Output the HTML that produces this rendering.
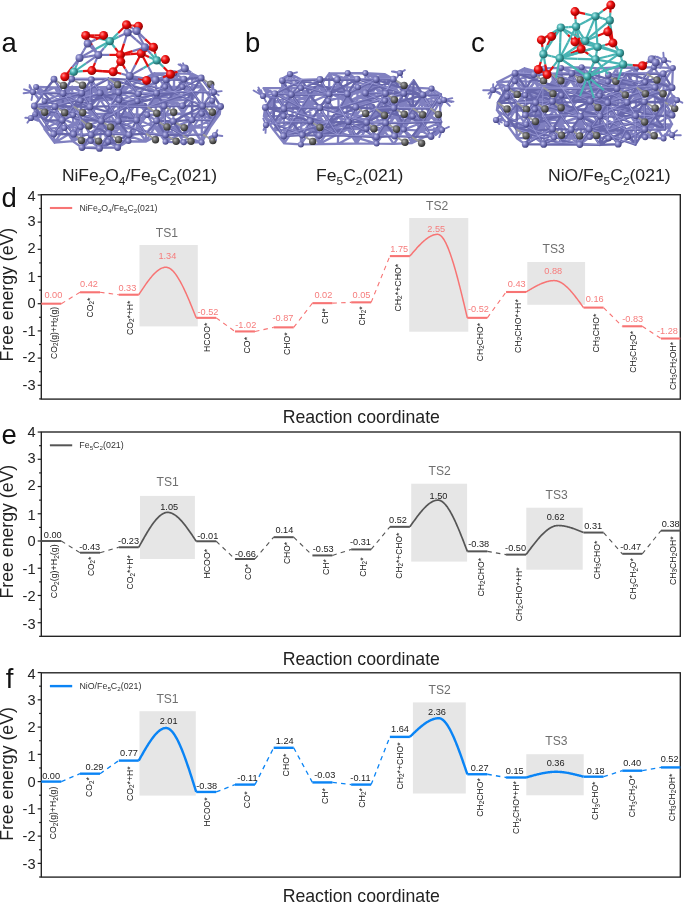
<!DOCTYPE html><html><head><meta charset="utf-8"><style>html,body{margin:0;padding:0;background:#fff;overflow:hidden;width:685px;height:903px;}svg{display:block;font-family:"Liberation Sans", sans-serif;will-change:transform;}</style></head><body>
<svg width="685" height="903" viewBox="0 0 685 903">
<rect width="685" height="903" fill="#fff"/>
<defs><radialGradient id="pball" cx="35%" cy="35%" r="65%"><stop offset="0" stop-color="#c4c4ee"/><stop offset="0.45" stop-color="#7c7cbe"/><stop offset="1" stop-color="#444484"/></radialGradient><radialGradient id="gball" cx="35%" cy="35%" r="65%"><stop offset="0" stop-color="#b0b0b0"/><stop offset="0.45" stop-color="#6a6a6a"/><stop offset="1" stop-color="#303030"/></radialGradient><radialGradient id="rball" cx="35%" cy="35%" r="65%"><stop offset="0" stop-color="#ff9090"/><stop offset="0.45" stop-color="#f01010"/><stop offset="1" stop-color="#900000"/></radialGradient><radialGradient id="tball" cx="35%" cy="35%" r="65%"><stop offset="0" stop-color="#b0f0f0"/><stop offset="0.5" stop-color="#40a8a8"/><stop offset="1" stop-color="#206868"/></radialGradient></defs>
<path d="M154.6 73.1L174.2 73.3 M154.6 73.1L165.2 86.8 M154.6 73.1L146.8 86.4 M154.6 73.1L203.2 87.3 M154.6 73.1L128.9 86.7 M174.2 73.3L192.3 73.8 M174.2 73.3L182.5 86.9 M174.2 73.3L165.2 86.8 M174.2 73.3L173.8 100.7 M174.2 73.3L146.8 86.4 M192.3 73.8L203.2 87.3 M192.3 73.8L182.5 86.9 M192.3 73.8L192.0 99.7 M36.1 87.0L54.7 87.4 M36.1 87.0L44.6 101.1 M36.1 87.0L62.3 100.9 M54.7 87.4L72.1 87.0 M54.7 87.4L62.3 100.9 M72.1 87.0L92.0 87.3 M72.1 87.0L62.3 100.9 M72.1 87.0L73.2 115.0 M72.1 87.0L100.2 99.9 M92.0 87.3L109.3 87.2 M92.0 87.3L80.6 100.6 M92.0 87.3L100.2 99.9 M92.0 87.3L91.9 114.0 M92.0 87.3L119.2 100.4 M92.0 87.3L128.9 86.7 M92.0 87.3L109.7 113.8 M109.3 87.2L128.9 86.7 M109.3 87.2L100.2 99.9 M109.3 87.2L119.2 100.4 M109.3 87.2L137.5 101.2 M109.3 87.2L62.3 100.9 M128.9 86.7L80.6 100.6 M146.8 86.4L155.2 99.4 M146.8 86.4L173.8 100.7 M146.8 86.4L100.2 99.9 M165.2 86.8L182.5 86.9 M165.2 86.8L155.2 99.4 M165.2 86.8L173.8 100.7 M165.2 86.8L203.2 87.3 M182.5 86.9L173.8 100.7 M182.5 86.9L192.0 99.7 M203.2 87.3L192.0 99.7 M203.2 87.3L212.2 100.7 M203.2 87.3L201.9 113.7 M44.6 101.1L62.3 100.9 M44.6 101.1L53.3 114.1 M44.6 101.1L35.1 114.5 M44.6 101.1L91.9 114.0 M44.6 101.1L64.4 127.9 M62.3 100.9L80.6 100.6 M62.3 100.9L73.2 115.0 M62.3 100.9L53.3 114.1 M62.3 100.9L35.1 114.5 M80.6 100.6L100.2 99.9 M80.6 100.6L91.9 114.0 M80.6 100.6L73.2 115.0 M100.2 99.9L119.2 100.4 M100.2 99.9L91.9 114.0 M119.2 100.4L137.5 101.2 M119.2 100.4L127.1 114.2 M119.2 100.4L109.7 113.8 M119.2 100.4L165.5 115.1 M137.5 101.2L155.2 99.4 M137.5 101.2L147.3 114.9 M137.5 101.2L127.1 114.2 M137.5 101.2L136.8 128.6 M137.5 101.2L109.7 113.8 M137.5 101.2L119.3 128.1 M155.2 99.4L173.8 100.7 M155.2 99.4L165.5 115.1 M155.2 99.4L147.3 114.9 M155.2 99.4L192.0 99.7 M155.2 99.4L136.8 128.6 M173.8 100.7L192.0 99.7 M173.8 100.7L183.0 113.5 M173.8 100.7L165.5 115.1 M192.0 99.7L183.0 113.5 M212.2 100.7L219.8 114.0 M212.2 100.7L201.9 113.7 M35.1 114.5L53.3 114.1 M35.1 114.5L64.4 127.9 M35.1 114.5L73.2 115.0 M35.1 114.5L54.7 142.7 M53.3 114.1L44.3 128.7 M53.3 114.1L64.4 127.9 M53.3 114.1L80.7 127.1 M73.2 115.0L80.7 127.1 M73.2 115.0L72.9 141.2 M91.9 114.0L109.7 113.8 M91.9 114.0L80.7 127.1 M91.9 114.0L119.3 128.1 M109.7 113.8L127.1 114.2 M109.7 113.8L101.1 127.1 M109.7 113.8L119.3 128.1 M109.7 113.8L108.3 141.7 M109.7 113.8L64.4 127.9 M109.7 113.8L147.3 114.9 M127.1 114.2L147.3 114.9 M127.1 114.2L119.3 128.1 M127.1 114.2L154.6 127.3 M147.3 114.9L165.5 115.1 M147.3 114.9L136.8 128.6 M147.3 114.9L154.6 127.3 M147.3 114.9L183.0 113.5 M165.5 115.1L183.0 113.5 M183.0 113.5L201.9 113.7 M183.0 113.5L174.1 127.0 M183.0 113.5L193.5 127.5 M183.0 113.5L201.7 142.4 M201.9 113.7L219.8 114.0 M201.9 113.7L193.5 127.5 M201.9 113.7L210.4 127.1 M201.9 113.7L201.7 142.4 M219.8 114.0L210.4 127.1 M44.3 128.7L64.4 127.9 M44.3 128.7L54.7 142.7 M44.3 128.7L90.9 141.1 M64.4 127.9L80.7 127.1 M64.4 127.9L72.9 141.2 M64.4 127.9L54.7 142.7 M80.7 127.1L101.1 127.1 M80.7 127.1L72.9 141.2 M80.7 127.1L54.7 142.7 M101.1 127.1L119.3 128.1 M101.1 127.1L108.3 141.7 M101.1 127.1L90.9 141.1 M101.1 127.1L146.0 141.5 M101.1 127.1L72.9 141.2 M101.1 127.1L136.8 128.6 M119.3 128.1L136.8 128.6 M119.3 128.1L128.5 141.1 M119.3 128.1L108.3 141.7 M136.8 128.6L146.0 141.5 M136.8 128.6L128.5 141.1 M136.8 128.6L183.8 142.3 M154.6 127.3L174.1 127.0 M154.6 127.3L165.5 141.8 M154.6 127.3L146.0 141.5 M154.6 127.3L201.7 142.4 M154.6 127.3L193.5 127.5 M174.1 127.0L193.5 127.5 M174.1 127.0L183.8 142.3 M174.1 127.0L165.5 141.8 M174.1 127.0L146.0 141.5 M193.5 127.5L210.4 127.1 M193.5 127.5L201.7 142.4 M193.5 127.5L183.8 142.3 M193.5 127.5L165.5 141.8 M210.4 127.1L201.7 142.4 M54.7 142.7L72.9 141.2 M90.9 141.1L108.3 141.7 M90.9 141.1L128.5 141.1 M108.3 141.7L128.5 141.1 M108.3 141.7L146.0 141.5 M128.5 141.1L146.0 141.5 M165.5 141.8L183.8 142.3 M183.8 142.3L201.7 142.4 M154.6 73.1L147.0 78.1 M154.6 73.1L156.6 93.2 M174.2 73.3L183.9 79.2 M174.2 73.3L173.8 92.3 M192.3 73.8L201.2 78.0 M192.3 73.8L192.2 91.9 M36.1 87.0L43.6 92.7 M54.7 87.4L43.6 92.7 M54.7 87.4L63.1 93.5 M72.1 87.0L63.1 93.5 M72.1 87.0L81.8 93.1 M72.1 87.0L55.0 106.5 M92.0 87.3L81.8 93.1 M92.0 87.3L100.2 93.1 M92.0 87.3L91.3 79.6 M109.3 87.2L100.2 93.1 M109.3 87.2L118.6 92.4 M109.3 87.2L90.0 106.9 M109.3 87.2L108.5 78.6 M128.9 86.7L118.6 92.4 M128.9 86.7L138.4 93.8 M128.9 86.7L110.2 106.1 M128.9 86.7L127.0 79.6 M146.8 86.4L138.4 93.8 M146.8 86.4L156.6 93.2 M146.8 86.4L127.0 106.3 M146.8 86.4L147.0 78.1 M165.2 86.8L156.6 93.2 M165.2 86.8L173.8 92.3 M165.2 86.8L166.2 79.9 M182.5 86.9L173.8 92.3 M182.5 86.9L192.2 91.9 M182.5 86.9L164.1 106.1 M182.5 86.9L183.9 79.2 M203.2 87.3L182.5 105.7 M44.6 101.1L43.9 120.7 M44.6 101.1L63.1 93.5 M62.3 100.9L55.0 106.5 M62.3 100.9L62.3 120.2 M62.3 100.9L81.8 93.1 M80.6 100.6L73.7 106.4 M80.6 100.6L81.1 119.9 M80.6 100.6L100.2 93.1 M100.2 99.9L118.6 92.4 M119.2 100.4L127.0 106.3 M119.2 100.4L118.3 121.2 M119.2 100.4L138.4 93.8 M137.5 101.2L127.0 106.3 M137.5 101.2L147.6 107.1 M137.5 101.2L136.6 120.2 M137.5 101.2L156.6 93.2 M155.2 99.4L147.6 107.1 M155.2 99.4L164.1 106.1 M155.2 99.4L156.6 120.7 M155.2 99.4L173.8 92.3 M173.8 100.7L164.1 106.1 M173.8 100.7L182.5 105.7 M173.8 100.7L173.3 121.4 M173.8 100.7L192.2 91.9 M192.0 99.7L192.1 119.9 M212.2 100.7L202.7 106.0 M212.2 100.7L211.9 120.1 M35.1 114.5L34.3 106.0 M53.3 114.1L62.3 120.2 M73.2 115.0L62.3 120.2 M73.2 115.0L81.1 119.9 M73.2 115.0L73.7 106.4 M91.9 114.0L81.1 119.9 M91.9 114.0L101.4 121.0 M91.9 114.0L73.6 134.2 M91.9 114.0L90.0 106.9 M109.7 113.8L91.2 134.9 M109.7 113.8L110.2 106.1 M127.1 114.2L118.3 121.2 M127.1 114.2L136.6 120.2 M127.1 114.2L108.7 133.5 M147.3 114.9L136.6 120.2 M147.3 114.9L156.6 120.7 M165.5 115.1L156.6 120.7 M165.5 115.1L173.3 121.4 M165.5 115.1L145.9 133.6 M183.0 113.5L192.1 119.9 M183.0 113.5L182.5 105.7 M201.9 113.7L192.1 119.9 M201.9 113.7L211.9 120.1 M219.8 114.0L211.9 120.1 M219.8 114.0L202.9 134.4 M219.8 114.0L220.6 106.5 M44.3 128.7L62.3 120.2 M64.4 127.9L53.7 134.1 M64.4 127.9L81.1 119.9 M80.7 127.1L101.4 121.0 M101.1 127.1L91.2 134.9 M101.1 127.1L99.5 148.4 M101.1 127.1L118.3 121.2 M119.3 128.1L108.7 133.5 M119.3 128.1L129.0 134.8 M119.3 128.1L136.6 120.2 M136.8 128.6L129.0 134.8 M136.8 128.6L145.9 133.6 M136.8 128.6L156.6 120.7 M154.6 127.3L165.6 135.1 M154.6 127.3L173.3 121.4 M174.1 127.0L182.8 135.1 M174.1 127.0L192.1 119.9 M193.5 127.5L182.8 135.1 M193.5 127.5L211.9 120.1 M210.4 127.1L202.9 134.4 M54.7 142.7L53.7 134.1 M72.9 141.2L82.0 147.6 M90.9 141.1L82.0 147.6 M90.9 141.1L99.5 148.4 M90.9 141.1L91.2 134.9 M108.3 141.7L99.5 148.4 M108.3 141.7L117.7 147.5 M108.3 141.7L108.7 133.5 M128.5 141.1L117.7 147.5 M146.0 141.5L145.9 133.6 M165.5 141.8L165.6 135.1 M201.7 142.4L202.9 134.4" stroke="#8080c0" stroke-width="2.3" stroke-linecap="round" fill="none"/>
<path d="M54.0 79.2L63.1 93.5 M54.0 79.2L43.6 92.7 M71.7 79.0L91.3 79.6 M71.7 79.0L63.1 93.5 M71.7 79.0L108.5 78.6 M91.3 79.6L108.5 78.6 M91.3 79.6L100.2 93.1 M91.3 79.6L81.8 93.1 M91.3 79.6L90.0 106.9 M108.5 78.6L127.0 79.6 M108.5 78.6L118.6 92.4 M108.5 78.6L156.6 93.2 M108.5 78.6L81.8 93.1 M127.0 79.6L147.0 78.1 M127.0 79.6L138.4 93.8 M127.0 79.6L118.6 92.4 M127.0 79.6L173.8 92.3 M127.0 79.6L166.2 79.9 M127.0 79.6L110.2 106.1 M147.0 78.1L166.2 79.9 M166.2 79.9L183.9 79.2 M166.2 79.9L173.8 92.3 M166.2 79.9L156.6 93.2 M166.2 79.9L201.2 78.0 M183.9 79.2L192.2 91.9 M183.9 79.2L173.8 92.3 M201.2 78.0L211.9 92.6 M201.2 78.0L192.2 91.9 M201.2 78.0L173.8 92.3 M43.6 92.7L63.1 93.5 M43.6 92.7L34.3 106.0 M43.6 92.7L55.0 106.5 M43.6 92.7L81.8 93.1 M63.1 93.5L81.8 93.1 M63.1 93.5L73.7 106.4 M63.1 93.5L62.3 120.2 M63.1 93.5L90.0 106.9 M81.8 93.1L73.7 106.4 M81.8 93.1L90.0 106.9 M81.8 93.1L81.1 119.9 M81.8 93.1L34.3 106.0 M100.2 93.1L90.0 106.9 M100.2 93.1L110.2 106.1 M100.2 93.1L127.0 106.3 M100.2 93.1L55.0 106.5 M118.6 92.4L138.4 93.8 M118.6 92.4L110.2 106.1 M118.6 92.4L127.0 106.3 M118.6 92.4L118.3 121.2 M118.6 92.4L73.7 106.4 M138.4 93.8L156.6 93.2 M138.4 93.8L147.6 107.1 M138.4 93.8L173.8 92.3 M156.6 93.2L173.8 92.3 M156.6 93.2L147.6 107.1 M156.6 93.2L164.1 106.1 M156.6 93.2L110.2 106.1 M156.6 93.2L192.2 91.9 M173.8 92.3L192.2 91.9 M173.8 92.3L164.1 106.1 M173.8 92.3L202.7 106.0 M173.8 92.3L127.0 106.3 M192.2 91.9L211.9 92.6 M192.2 91.9L182.5 105.7 M192.2 91.9L202.7 106.0 M192.2 91.9L192.1 119.9 M192.2 91.9L147.6 107.1 M192.2 91.9L211.9 120.1 M211.9 92.6L202.7 106.0 M211.9 92.6L220.6 106.5 M34.3 106.0L55.0 106.5 M34.3 106.0L43.9 120.7 M34.3 106.0L81.1 119.9 M55.0 106.5L73.7 106.4 M55.0 106.5L62.3 120.2 M55.0 106.5L43.9 120.7 M55.0 106.5L101.4 121.0 M73.7 106.4L90.0 106.9 M73.7 106.4L81.1 119.9 M73.7 106.4L62.3 120.2 M73.7 106.4L53.7 134.1 M90.0 106.9L110.2 106.1 M90.0 106.9L101.4 121.0 M90.0 106.9L136.6 120.2 M90.0 106.9L62.3 120.2 M110.2 106.1L127.0 106.3 M110.2 106.1L118.3 121.2 M110.2 106.1L101.4 121.0 M110.2 106.1L147.6 107.1 M127.0 106.3L147.6 107.1 M127.0 106.3L136.6 120.2 M127.0 106.3L118.3 121.2 M127.0 106.3L101.4 121.0 M127.0 106.3L164.1 106.1 M147.6 107.1L164.1 106.1 M147.6 107.1L136.6 120.2 M164.1 106.1L182.5 105.7 M164.1 106.1L156.6 120.7 M164.1 106.1L165.6 135.1 M182.5 105.7L202.7 106.0 M202.7 106.0L220.6 106.5 M202.7 106.0L211.9 120.1 M202.7 106.0L192.1 119.9 M202.7 106.0L173.3 121.4 M220.6 106.5L211.9 120.1 M43.9 120.7L62.3 120.2 M43.9 120.7L53.7 134.1 M62.3 120.2L53.7 134.1 M62.3 120.2L73.6 134.2 M81.1 119.9L101.4 121.0 M81.1 119.9L73.6 134.2 M81.1 119.9L91.2 134.9 M81.1 119.9L82.0 147.6 M81.1 119.9L108.7 133.5 M81.1 119.9L99.5 148.4 M101.4 121.0L118.3 121.2 M101.4 121.0L91.2 134.9 M101.4 121.0L108.7 133.5 M101.4 121.0L136.6 120.2 M118.3 121.2L136.6 120.2 M118.3 121.2L108.7 133.5 M118.3 121.2L129.0 134.8 M118.3 121.2L145.9 133.6 M136.6 120.2L129.0 134.8 M136.6 120.2L145.9 133.6 M156.6 120.7L173.3 121.4 M156.6 120.7L145.9 133.6 M156.6 120.7L165.6 135.1 M156.6 120.7L182.8 135.1 M173.3 121.4L192.1 119.9 M173.3 121.4L165.6 135.1 M173.3 121.4L182.8 135.1 M192.1 119.9L211.9 120.1 M192.1 119.9L182.8 135.1 M211.9 120.1L202.9 134.4 M53.7 134.1L73.6 134.2 M73.6 134.2L91.2 134.9 M91.2 134.9L108.7 133.5 M91.2 134.9L99.5 148.4 M91.2 134.9L82.0 147.6 M108.7 133.5L129.0 134.8 M108.7 133.5L117.7 147.5 M108.7 133.5L99.5 148.4 M129.0 134.8L145.9 133.6 M129.0 134.8L117.7 147.5 M129.0 134.8L99.5 148.4 M145.9 133.6L165.6 135.1 M165.6 135.1L182.8 135.1 M182.8 135.1L202.9 134.4 M82.0 147.6L99.5 148.4 M82.0 147.6L117.7 147.5" stroke="#6767ab" stroke-width="2.4" stroke-linecap="round" fill="none"/>
<path d="M54.0 79.2L63.1 93.5 M71.7 79.0L91.3 79.6 M71.7 79.0L108.5 78.6 M91.3 79.6L100.2 93.1 M91.3 79.6L90.0 106.9 M108.5 78.6L118.6 92.4 M108.5 78.6L81.8 93.1 M127.0 79.6L138.4 93.8 M127.0 79.6L173.8 92.3 M127.0 79.6L110.2 106.1 M166.2 79.9L183.9 79.2 M166.2 79.9L156.6 93.2 M183.9 79.2L192.2 91.9 M201.2 78.0L211.9 92.6 M201.2 78.0L173.8 92.3 M43.6 92.7L34.3 106.0 M43.6 92.7L81.8 93.1 M63.1 93.5L73.7 106.4 M63.1 93.5L90.0 106.9 M81.8 93.1L90.0 106.9 M81.8 93.1L34.3 106.0 M100.2 93.1L110.2 106.1 M100.2 93.1L55.0 106.5 M118.6 92.4L110.2 106.1 M118.6 92.4L118.3 121.2 M138.4 93.8L156.6 93.2 M138.4 93.8L173.8 92.3 M156.6 93.2L147.6 107.1 M156.6 93.2L110.2 106.1 M173.8 92.3L192.2 91.9 M173.8 92.3L202.7 106.0 M192.2 91.9L211.9 92.6 M192.2 91.9L202.7 106.0 M192.2 91.9L147.6 107.1 M211.9 92.6L202.7 106.0 M34.3 106.0L55.0 106.5 M34.3 106.0L81.1 119.9 M55.0 106.5L62.3 120.2 M55.0 106.5L101.4 121.0 M73.7 106.4L81.1 119.9 M73.7 106.4L53.7 134.1 M90.0 106.9L101.4 121.0 M90.0 106.9L62.3 120.2 M110.2 106.1L118.3 121.2 M110.2 106.1L147.6 107.1 M127.0 106.3L136.6 120.2 M127.0 106.3L101.4 121.0 M147.6 107.1L164.1 106.1 M164.1 106.1L182.5 105.7 M164.1 106.1L165.6 135.1 M202.7 106.0L220.6 106.5 M202.7 106.0L192.1 119.9 M220.6 106.5L211.9 120.1 M43.9 120.7L53.7 134.1 M62.3 120.2L73.6 134.2 M81.1 119.9L73.6 134.2 M81.1 119.9L82.0 147.6 M81.1 119.9L99.5 148.4 M101.4 121.0L91.2 134.9 M101.4 121.0L136.6 120.2 M118.3 121.2L108.7 133.5 M118.3 121.2L145.9 133.6 M136.6 120.2L145.9 133.6 M156.6 120.7L145.9 133.6 M156.6 120.7L182.8 135.1 M173.3 121.4L165.6 135.1 M192.1 119.9L211.9 120.1 M211.9 120.1L202.9 134.4 M73.6 134.2L91.2 134.9 M91.2 134.9L99.5 148.4 M108.7 133.5L129.0 134.8 M108.7 133.5L99.5 148.4 M129.0 134.8L117.7 147.5 M145.9 133.6L165.6 135.1 M182.8 135.1L202.9 134.4 M82.0 147.6L117.7 147.5" stroke="#a8a8e0" stroke-width="0.6" fill="none" transform="translate(-0.4,-0.6)"/>
<line x1="63.5" y1="85.4" x2="54.0" y2="79.2" stroke="#9a9a9a" stroke-width="1.8"/>
<circle cx="63.5" cy="85.4" r="3.7" fill="url(#gball)"/>
<line x1="82.6" y1="85.2" x2="71.7" y2="79.0" stroke="#9a9a9a" stroke-width="1.8"/>
<circle cx="82.6" cy="85.2" r="3.7" fill="url(#gball)"/>
<line x1="117.6" y1="84.8" x2="108.5" y2="78.6" stroke="#9a9a9a" stroke-width="1.8"/>
<circle cx="117.6" cy="84.8" r="3.7" fill="url(#gball)"/>
<line x1="210.7" y1="84.2" x2="201.2" y2="78.0" stroke="#9a9a9a" stroke-width="1.8"/>
<circle cx="210.7" cy="84.2" r="3.7" fill="url(#gball)"/>
<line x1="44.7" y1="112.2" x2="34.3" y2="106.0" stroke="#9a9a9a" stroke-width="1.8"/>
<circle cx="44.7" cy="112.2" r="3.7" fill="url(#gball)"/>
<line x1="64.7" y1="112.7" x2="55.0" y2="106.5" stroke="#9a9a9a" stroke-width="1.8"/>
<circle cx="64.7" cy="112.7" r="3.7" fill="url(#gball)"/>
<line x1="82.7" y1="112.6" x2="73.7" y2="106.4" stroke="#9a9a9a" stroke-width="1.8"/>
<circle cx="82.7" cy="112.6" r="3.7" fill="url(#gball)"/>
<line x1="156.8" y1="113.3" x2="147.6" y2="107.1" stroke="#9a9a9a" stroke-width="1.8"/>
<circle cx="156.8" cy="113.3" r="3.7" fill="url(#gball)"/>
<line x1="173.7" y1="112.3" x2="164.1" y2="106.1" stroke="#9a9a9a" stroke-width="1.8"/>
<circle cx="173.7" cy="112.3" r="3.7" fill="url(#gball)"/>
<line x1="212.4" y1="112.2" x2="202.7" y2="106.0" stroke="#9a9a9a" stroke-width="1.8"/>
<circle cx="212.4" cy="112.2" r="3.7" fill="url(#gball)"/>
<line x1="88.9" y1="126.1" x2="81.1" y2="119.9" stroke="#9a9a9a" stroke-width="1.8"/>
<circle cx="88.9" cy="126.1" r="3.7" fill="url(#gball)"/>
<line x1="110.6" y1="127.2" x2="101.4" y2="121.0" stroke="#9a9a9a" stroke-width="1.8"/>
<circle cx="110.6" cy="127.2" r="3.7" fill="url(#gball)"/>
<line x1="167.0" y1="126.9" x2="156.6" y2="120.7" stroke="#9a9a9a" stroke-width="1.8"/>
<circle cx="167.0" cy="126.9" r="3.7" fill="url(#gball)"/>
<line x1="184.2" y1="127.6" x2="173.3" y2="121.4" stroke="#9a9a9a" stroke-width="1.8"/>
<circle cx="184.2" cy="127.6" r="3.7" fill="url(#gball)"/>
<line x1="81.4" y1="140.4" x2="73.6" y2="134.2" stroke="#9a9a9a" stroke-width="1.8"/>
<circle cx="81.4" cy="140.4" r="3.7" fill="url(#gball)"/>
<line x1="98.6" y1="141.1" x2="91.2" y2="134.9" stroke="#9a9a9a" stroke-width="1.8"/>
<circle cx="98.6" cy="141.1" r="3.7" fill="url(#gball)"/>
<line x1="118.5" y1="139.7" x2="108.7" y2="133.5" stroke="#9a9a9a" stroke-width="1.8"/>
<circle cx="118.5" cy="139.7" r="3.7" fill="url(#gball)"/>
<line x1="155.5" y1="139.8" x2="145.9" y2="133.6" stroke="#9a9a9a" stroke-width="1.8"/>
<circle cx="155.5" cy="139.8" r="3.7" fill="url(#gball)"/>
<line x1="176.1" y1="141.3" x2="165.6" y2="135.1" stroke="#9a9a9a" stroke-width="1.8"/>
<circle cx="176.1" cy="141.3" r="3.7" fill="url(#gball)"/>
<line x1="191.0" y1="141.3" x2="182.8" y2="135.1" stroke="#9a9a9a" stroke-width="1.8"/>
<circle cx="191.0" cy="141.3" r="3.7" fill="url(#gball)"/>
<line x1="212.9" y1="140.6" x2="202.9" y2="134.4" stroke="#9a9a9a" stroke-width="1.8"/>
<circle cx="212.9" cy="140.6" r="3.7" fill="url(#gball)"/>
<circle cx="174.2" cy="73.3" r="3.0" fill="url(#pball)"/>
<circle cx="36.1" cy="87.0" r="3.0" fill="url(#pball)"/>
<circle cx="109.3" cy="87.2" r="3.0" fill="url(#pball)"/>
<circle cx="165.2" cy="86.8" r="3.0" fill="url(#pball)"/>
<circle cx="182.5" cy="86.9" r="3.0" fill="url(#pball)"/>
<circle cx="44.6" cy="101.1" r="3.0" fill="url(#pball)"/>
<circle cx="80.6" cy="100.6" r="3.0" fill="url(#pball)"/>
<circle cx="119.2" cy="100.4" r="3.0" fill="url(#pball)"/>
<circle cx="137.5" cy="101.2" r="3.0" fill="url(#pball)"/>
<circle cx="212.2" cy="100.7" r="3.0" fill="url(#pball)"/>
<circle cx="35.1" cy="114.5" r="3.0" fill="url(#pball)"/>
<circle cx="73.2" cy="115.0" r="3.0" fill="url(#pball)"/>
<circle cx="147.3" cy="114.9" r="3.0" fill="url(#pball)"/>
<circle cx="201.9" cy="113.7" r="3.0" fill="url(#pball)"/>
<circle cx="64.4" cy="127.9" r="3.0" fill="url(#pball)"/>
<circle cx="80.7" cy="127.1" r="3.0" fill="url(#pball)"/>
<circle cx="90.9" cy="141.1" r="3.0" fill="url(#pball)"/>
<circle cx="108.3" cy="141.7" r="3.0" fill="url(#pball)"/>
<circle cx="128.5" cy="141.1" r="3.0" fill="url(#pball)"/>
<circle cx="165.5" cy="141.8" r="3.0" fill="url(#pball)"/>
<circle cx="183.8" cy="142.3" r="3.0" fill="url(#pball)"/>
<circle cx="201.7" cy="142.4" r="3.0" fill="url(#pball)"/>
<circle cx="54.0" cy="79.2" r="3.4" fill="url(#pball)"/>
<circle cx="71.7" cy="79.0" r="3.4" fill="url(#pball)"/>
<circle cx="91.3" cy="79.6" r="3.4" fill="url(#pball)"/>
<circle cx="166.2" cy="79.9" r="3.4" fill="url(#pball)"/>
<circle cx="183.9" cy="79.2" r="3.4" fill="url(#pball)"/>
<circle cx="201.2" cy="78.0" r="3.4" fill="url(#pball)"/>
<circle cx="63.1" cy="93.5" r="3.4" fill="url(#pball)"/>
<circle cx="81.8" cy="93.1" r="3.4" fill="url(#pball)"/>
<circle cx="100.2" cy="93.1" r="3.4" fill="url(#pball)"/>
<circle cx="118.6" cy="92.4" r="3.4" fill="url(#pball)"/>
<circle cx="138.4" cy="93.8" r="3.4" fill="url(#pball)"/>
<circle cx="156.6" cy="93.2" r="3.4" fill="url(#pball)"/>
<circle cx="211.9" cy="92.6" r="3.4" fill="url(#pball)"/>
<circle cx="34.3" cy="106.0" r="3.4" fill="url(#pball)"/>
<circle cx="55.0" cy="106.5" r="3.4" fill="url(#pball)"/>
<circle cx="90.0" cy="106.9" r="3.4" fill="url(#pball)"/>
<circle cx="164.1" cy="106.1" r="3.4" fill="url(#pball)"/>
<circle cx="182.5" cy="105.7" r="3.4" fill="url(#pball)"/>
<circle cx="202.7" cy="106.0" r="3.4" fill="url(#pball)"/>
<circle cx="220.6" cy="106.5" r="3.4" fill="url(#pball)"/>
<circle cx="62.3" cy="120.2" r="3.4" fill="url(#pball)"/>
<circle cx="101.4" cy="121.0" r="3.4" fill="url(#pball)"/>
<circle cx="118.3" cy="121.2" r="3.4" fill="url(#pball)"/>
<circle cx="136.6" cy="120.2" r="3.4" fill="url(#pball)"/>
<circle cx="156.6" cy="120.7" r="3.4" fill="url(#pball)"/>
<circle cx="173.3" cy="121.4" r="3.4" fill="url(#pball)"/>
<circle cx="192.1" cy="119.9" r="3.4" fill="url(#pball)"/>
<circle cx="53.7" cy="134.1" r="3.4" fill="url(#pball)"/>
<circle cx="73.6" cy="134.2" r="3.4" fill="url(#pball)"/>
<circle cx="91.2" cy="134.9" r="3.4" fill="url(#pball)"/>
<circle cx="108.7" cy="133.5" r="3.4" fill="url(#pball)"/>
<circle cx="129.0" cy="134.8" r="3.4" fill="url(#pball)"/>
<circle cx="165.6" cy="135.1" r="3.4" fill="url(#pball)"/>
<circle cx="82.0" cy="147.6" r="3.4" fill="url(#pball)"/>
<circle cx="99.5" cy="148.4" r="3.4" fill="url(#pball)"/>
<circle cx="117.7" cy="147.5" r="3.4" fill="url(#pball)"/>
<path d="M33.0 92.0L23.6 93.2 M33.0 92.0L29.4 87.0 M33.0 92.0L41.2 92.4 M33.0 92.0L31.5 100.0 M33.0 92.0L29.6 85.1 M33.0 92.0L24.1 89.3 M33.0 92.0L38.2 97.4 M33.0 92.0L38.5 99.2 M33.0 92.0L42.5 94.9 M31.0 118.0L38.0 120.8 M31.0 118.0L27.4 122.7 M31.0 118.0L34.0 114.3 M31.0 118.0L39.1 120.6 M31.0 118.0L25.3 117.7 M31.0 118.0L39.8 117.4 M185.0 68.0L190.8 72.0 M185.0 68.0L189.8 72.4 M185.0 68.0L180.2 64.3 M185.0 68.0L183.0 63.3 M185.0 68.0L189.4 74.5 M185.0 68.0L178.8 71.6 M185.0 68.0L178.5 64.4 M185.0 68.0L180.4 71.2 M214.0 92.0L212.7 85.0 M214.0 92.0L221.7 91.1 M214.0 92.0L209.8 96.2 M214.0 92.0L211.1 86.2 M214.0 92.0L218.7 95.3 M214.0 92.0L209.3 96.4 M215.0 135.0L217.4 130.2 M215.0 135.0L222.3 136.0 M215.0 135.0L209.2 137.2 M215.0 135.0L216.1 139.9 M215.0 135.0L209.4 138.8" stroke="#7c7cc0" stroke-width="1.9" stroke-linecap="round" fill="none"/>
<circle cx="33.0" cy="92.0" r="3.1" fill="url(#pball)"/>
<circle cx="31.0" cy="118.0" r="3.1" fill="url(#pball)"/>
<circle cx="185.0" cy="68.0" r="3.1" fill="url(#pball)"/>
<circle cx="214.0" cy="92.0" r="3.1" fill="url(#pball)"/>
<circle cx="215.0" cy="135.0" r="3.1" fill="url(#pball)"/>
<line x1="85.7" y1="35.4" x2="97.8" y2="38.3" stroke="#e01010" stroke-width="2.2"/>
<line x1="97.8" y1="38.3" x2="109.8" y2="41.2" stroke="#48b4b4" stroke-width="2.2"/>
<line x1="85.7" y1="35.4" x2="86.7" y2="39.5" stroke="#e01010" stroke-width="2.2"/>
<line x1="86.7" y1="39.5" x2="87.7" y2="43.6" stroke="#7a7abc" stroke-width="2.2"/>
<line x1="103.6" y1="35.4" x2="106.7" y2="38.3" stroke="#e01010" stroke-width="2.2"/>
<line x1="106.7" y1="38.3" x2="109.8" y2="41.2" stroke="#48b4b4" stroke-width="2.2"/>
<line x1="109.8" y1="41.2" x2="118.7" y2="36.8" stroke="#48b4b4" stroke-width="2.2"/>
<line x1="118.7" y1="36.8" x2="127.6" y2="32.4" stroke="#7a7abc" stroke-width="2.2"/>
<line x1="109.8" y1="41.2" x2="118.2" y2="33.0" stroke="#48b4b4" stroke-width="2.2"/>
<line x1="118.2" y1="33.0" x2="126.5" y2="24.8" stroke="#e01010" stroke-width="2.2"/>
<line x1="126.5" y1="24.8" x2="131.6" y2="27.9" stroke="#e01010" stroke-width="2.2"/>
<line x1="131.6" y1="27.9" x2="136.7" y2="30.9" stroke="#7a7abc" stroke-width="2.2"/>
<line x1="138.4" y1="26.2" x2="137.6" y2="28.5" stroke="#e01010" stroke-width="2.2"/>
<line x1="137.6" y1="28.5" x2="136.7" y2="30.9" stroke="#7a7abc" stroke-width="2.2"/>
<line x1="127.6" y1="32.4" x2="132.1" y2="31.6" stroke="#7a7abc" stroke-width="2.2"/>
<line x1="132.1" y1="31.6" x2="136.7" y2="30.9" stroke="#7a7abc" stroke-width="2.2"/>
<line x1="136.7" y1="30.9" x2="145.1" y2="39.1" stroke="#7a7abc" stroke-width="2.2"/>
<line x1="145.1" y1="39.1" x2="153.5" y2="47.3" stroke="#e01010" stroke-width="2.2"/>
<line x1="136.7" y1="30.9" x2="140.8" y2="39.1" stroke="#7a7abc" stroke-width="2.2"/>
<line x1="140.8" y1="39.1" x2="144.9" y2="47.3" stroke="#7a7abc" stroke-width="2.2"/>
<line x1="144.9" y1="47.3" x2="149.2" y2="47.3" stroke="#7a7abc" stroke-width="2.2"/>
<line x1="149.2" y1="47.3" x2="153.5" y2="47.3" stroke="#e01010" stroke-width="2.2"/>
<line x1="153.5" y1="47.3" x2="155.2" y2="53.8" stroke="#e01010" stroke-width="2.2"/>
<line x1="155.2" y1="53.8" x2="156.8" y2="60.4" stroke="#48b4b4" stroke-width="2.2"/>
<line x1="156.8" y1="60.4" x2="161.1" y2="60.0" stroke="#48b4b4" stroke-width="2.2"/>
<line x1="161.1" y1="60.0" x2="165.4" y2="59.6" stroke="#e01010" stroke-width="2.2"/>
<line x1="156.8" y1="60.4" x2="149.0" y2="56.9" stroke="#48b4b4" stroke-width="2.2"/>
<line x1="149.0" y1="56.9" x2="141.2" y2="53.4" stroke="#e01010" stroke-width="2.2"/>
<line x1="141.2" y1="53.4" x2="130.8" y2="54.1" stroke="#e01010" stroke-width="2.2"/>
<line x1="130.8" y1="54.1" x2="120.4" y2="54.9" stroke="#e01010" stroke-width="2.2"/>
<line x1="79.5" y1="57.9" x2="88.9" y2="56.4" stroke="#7a7abc" stroke-width="2.2"/>
<line x1="88.9" y1="56.4" x2="98.3" y2="54.9" stroke="#7a7abc" stroke-width="2.2"/>
<line x1="109.8" y1="41.2" x2="94.7" y2="49.5" stroke="#48b4b4" stroke-width="2.2"/>
<line x1="94.7" y1="49.5" x2="79.5" y2="57.9" stroke="#7a7abc" stroke-width="2.2"/>
<line x1="98.3" y1="54.9" x2="104.0" y2="48.0" stroke="#7a7abc" stroke-width="2.2"/>
<line x1="104.0" y1="48.0" x2="109.8" y2="41.2" stroke="#48b4b4" stroke-width="2.2"/>
<line x1="98.3" y1="54.9" x2="109.3" y2="54.9" stroke="#7a7abc" stroke-width="2.2"/>
<line x1="109.3" y1="54.9" x2="120.4" y2="54.9" stroke="#e01010" stroke-width="2.2"/>
<line x1="120.4" y1="54.9" x2="120.6" y2="58.2" stroke="#e01010" stroke-width="2.2"/>
<line x1="120.6" y1="58.2" x2="120.8" y2="61.6" stroke="#e01010" stroke-width="2.2"/>
<line x1="79.5" y1="57.9" x2="76.7" y2="64.8" stroke="#7a7abc" stroke-width="2.2"/>
<line x1="76.7" y1="64.8" x2="73.8" y2="71.8" stroke="#48b4b4" stroke-width="2.2"/>
<line x1="73.8" y1="71.8" x2="69.3" y2="74.2" stroke="#48b4b4" stroke-width="2.2"/>
<line x1="69.3" y1="74.2" x2="64.8" y2="76.7" stroke="#e01010" stroke-width="2.2"/>
<line x1="73.8" y1="71.8" x2="82.8" y2="71.2" stroke="#48b4b4" stroke-width="2.2"/>
<line x1="82.8" y1="71.2" x2="91.8" y2="70.6" stroke="#e01010" stroke-width="2.2"/>
<line x1="98.3" y1="54.9" x2="95.0" y2="62.8" stroke="#7a7abc" stroke-width="2.2"/>
<line x1="95.0" y1="62.8" x2="91.8" y2="70.6" stroke="#e01010" stroke-width="2.2"/>
<line x1="91.8" y1="70.6" x2="102.5" y2="71.2" stroke="#e01010" stroke-width="2.2"/>
<line x1="102.5" y1="71.2" x2="113.2" y2="71.8" stroke="#e01010" stroke-width="2.2"/>
<line x1="113.2" y1="71.8" x2="121.4" y2="73.8" stroke="#e01010" stroke-width="2.2"/>
<line x1="121.4" y1="73.8" x2="129.6" y2="75.9" stroke="#7a7abc" stroke-width="2.2"/>
<line x1="129.6" y1="75.9" x2="135.4" y2="64.7" stroke="#7a7abc" stroke-width="2.2"/>
<line x1="135.4" y1="64.7" x2="141.2" y2="53.4" stroke="#e01010" stroke-width="2.2"/>
<line x1="129.6" y1="75.9" x2="138.1" y2="78.2" stroke="#7a7abc" stroke-width="2.2"/>
<line x1="138.1" y1="78.2" x2="146.6" y2="80.4" stroke="#e01010" stroke-width="2.2"/>
<line x1="146.6" y1="80.4" x2="151.1" y2="80.2" stroke="#e01010" stroke-width="2.2"/>
<line x1="151.1" y1="80.2" x2="155.5" y2="80.0" stroke="#7a7abc" stroke-width="2.2"/>
<line x1="156.8" y1="60.4" x2="143.2" y2="68.2" stroke="#48b4b4" stroke-width="2.2"/>
<line x1="143.2" y1="68.2" x2="129.6" y2="75.9" stroke="#7a7abc" stroke-width="2.2"/>
<line x1="156.8" y1="60.4" x2="163.7" y2="67.3" stroke="#48b4b4" stroke-width="2.2"/>
<line x1="163.7" y1="67.3" x2="170.5" y2="74.3" stroke="#e01010" stroke-width="2.2"/>
<line x1="170.5" y1="74.3" x2="177.7" y2="71.4" stroke="#e01010" stroke-width="2.2"/>
<line x1="177.7" y1="71.4" x2="184.8" y2="68.5" stroke="#7a7abc" stroke-width="2.2"/>
<line x1="87.7" y1="43.6" x2="83.6" y2="50.8" stroke="#7a7abc" stroke-width="2.2"/>
<line x1="83.6" y1="50.8" x2="79.5" y2="57.9" stroke="#7a7abc" stroke-width="2.2"/>
<line x1="85.7" y1="35.4" x2="92.0" y2="45.1" stroke="#e01010" stroke-width="2.2"/>
<line x1="92.0" y1="45.1" x2="98.3" y2="54.9" stroke="#7a7abc" stroke-width="2.2"/>
<line x1="127.6" y1="32.4" x2="124.0" y2="43.6" stroke="#7a7abc" stroke-width="2.2"/>
<line x1="124.0" y1="43.6" x2="120.4" y2="54.9" stroke="#e01010" stroke-width="2.2"/>
<line x1="144.9" y1="47.3" x2="143.1" y2="50.3" stroke="#7a7abc" stroke-width="2.2"/>
<line x1="143.1" y1="50.3" x2="141.2" y2="53.4" stroke="#e01010" stroke-width="2.2"/>
<line x1="120.8" y1="61.6" x2="125.2" y2="68.8" stroke="#e01010" stroke-width="2.2"/>
<line x1="125.2" y1="68.8" x2="129.6" y2="75.9" stroke="#7a7abc" stroke-width="2.2"/>
<line x1="126.5" y1="24.8" x2="127.0" y2="28.6" stroke="#e01010" stroke-width="2.2"/>
<line x1="127.0" y1="28.6" x2="127.6" y2="32.4" stroke="#7a7abc" stroke-width="2.2"/>
<line x1="87.7" y1="43.6" x2="93.0" y2="49.2" stroke="#7a7abc" stroke-width="2.2"/>
<line x1="93.0" y1="49.2" x2="98.3" y2="54.9" stroke="#7a7abc" stroke-width="2.2"/>
<line x1="155.5" y1="80.0" x2="163.0" y2="77.2" stroke="#7a7abc" stroke-width="2.2"/>
<line x1="163.0" y1="77.2" x2="170.5" y2="74.3" stroke="#e01010" stroke-width="2.2"/>
<line x1="141.2" y1="53.4" x2="148.3" y2="66.7" stroke="#e01010" stroke-width="2.2"/>
<line x1="148.3" y1="66.7" x2="155.5" y2="80.0" stroke="#7a7abc" stroke-width="2.2"/>
<line x1="79.5" y1="57.9" x2="72.2" y2="67.3" stroke="#7a7abc" stroke-width="2.2"/>
<line x1="72.2" y1="67.3" x2="64.8" y2="76.7" stroke="#e01010" stroke-width="2.2"/>
<line x1="85.7" y1="35.4" x2="94.7" y2="35.4" stroke="#e01010" stroke-width="2.2"/>
<line x1="94.7" y1="35.4" x2="103.6" y2="35.4" stroke="#e01010" stroke-width="2.2"/>
<line x1="103.6" y1="35.4" x2="95.7" y2="39.5" stroke="#e01010" stroke-width="2.2"/>
<line x1="95.7" y1="39.5" x2="87.7" y2="43.6" stroke="#7a7abc" stroke-width="2.2"/>
<line x1="126.5" y1="24.8" x2="132.4" y2="25.5" stroke="#e01010" stroke-width="2.2"/>
<line x1="132.4" y1="25.5" x2="138.4" y2="26.2" stroke="#e01010" stroke-width="2.2"/>
<line x1="127.6" y1="32.4" x2="136.2" y2="39.8" stroke="#7a7abc" stroke-width="2.2"/>
<line x1="136.2" y1="39.8" x2="144.9" y2="47.3" stroke="#7a7abc" stroke-width="2.2"/>
<line x1="120.4" y1="54.9" x2="132.7" y2="51.1" stroke="#e01010" stroke-width="2.2"/>
<line x1="132.7" y1="51.1" x2="144.9" y2="47.3" stroke="#7a7abc" stroke-width="2.2"/>
<line x1="120.8" y1="61.6" x2="117.0" y2="66.7" stroke="#e01010" stroke-width="2.2"/>
<line x1="117.0" y1="66.7" x2="113.2" y2="71.8" stroke="#e01010" stroke-width="2.2"/>
<line x1="91.8" y1="70.6" x2="102.5" y2="71.2" stroke="#e01010" stroke-width="2.2"/>
<line x1="102.5" y1="71.2" x2="113.2" y2="71.8" stroke="#e01010" stroke-width="2.2"/>
<line x1="73.8" y1="71.8" x2="86.0" y2="63.3" stroke="#48b4b4" stroke-width="2.2"/>
<line x1="86.0" y1="63.3" x2="98.3" y2="54.9" stroke="#7a7abc" stroke-width="2.2"/>
<line x1="129.6" y1="75.9" x2="142.6" y2="78.0" stroke="#7a7abc" stroke-width="2.2"/>
<line x1="142.6" y1="78.0" x2="155.5" y2="80.0" stroke="#7a7abc" stroke-width="2.2"/>
<line x1="153.5" y1="47.3" x2="147.3" y2="50.3" stroke="#e01010" stroke-width="2.2"/>
<line x1="147.3" y1="50.3" x2="141.2" y2="53.4" stroke="#e01010" stroke-width="2.2"/>
<line x1="109.8" y1="41.2" x2="115.1" y2="48.0" stroke="#48b4b4" stroke-width="2.2"/>
<line x1="115.1" y1="48.0" x2="120.4" y2="54.9" stroke="#e01010" stroke-width="2.2"/>
<line x1="144.9" y1="47.3" x2="150.9" y2="53.8" stroke="#7a7abc" stroke-width="2.2"/>
<line x1="150.9" y1="53.8" x2="156.8" y2="60.4" stroke="#48b4b4" stroke-width="2.2"/>
<circle cx="87.7" cy="43.6" r="4.0" fill="url(#pball)"/>
<circle cx="127.6" cy="32.4" r="4.0" fill="url(#pball)"/>
<circle cx="85.7" cy="35.4" r="4.5" fill="url(#rball)"/>
<circle cx="103.6" cy="35.4" r="4.5" fill="url(#rball)"/>
<circle cx="109.8" cy="41.2" r="4.1" fill="url(#tball)"/>
<circle cx="126.5" cy="24.8" r="4.5" fill="url(#rball)"/>
<circle cx="138.4" cy="26.2" r="4.5" fill="url(#rball)"/>
<circle cx="136.7" cy="30.9" r="4.0" fill="url(#pball)"/>
<circle cx="79.5" cy="57.9" r="4.0" fill="url(#pball)"/>
<circle cx="98.3" cy="54.9" r="4.0" fill="url(#pball)"/>
<circle cx="120.4" cy="54.9" r="4.5" fill="url(#rball)"/>
<circle cx="120.8" cy="61.6" r="4.5" fill="url(#rball)"/>
<circle cx="141.2" cy="53.4" r="4.5" fill="url(#rball)"/>
<circle cx="153.5" cy="47.3" r="4.5" fill="url(#rball)"/>
<circle cx="144.9" cy="47.3" r="4.0" fill="url(#pball)"/>
<circle cx="156.8" cy="60.4" r="4.1" fill="url(#tball)"/>
<circle cx="165.4" cy="59.6" r="4.5" fill="url(#rball)"/>
<circle cx="73.8" cy="71.8" r="4.1" fill="url(#tball)"/>
<circle cx="64.8" cy="76.7" r="4.5" fill="url(#rball)"/>
<circle cx="91.8" cy="70.6" r="4.5" fill="url(#rball)"/>
<circle cx="113.2" cy="71.8" r="4.5" fill="url(#rball)"/>
<circle cx="129.6" cy="75.9" r="4.0" fill="url(#pball)"/>
<circle cx="146.6" cy="80.4" r="4.5" fill="url(#rball)"/>
<circle cx="170.5" cy="74.3" r="4.5" fill="url(#rball)"/>
<circle cx="184.8" cy="68.5" r="4.0" fill="url(#pball)"/>
<circle cx="155.5" cy="80.0" r="4.0" fill="url(#pball)"/>
<path d="M291.4 74.4L300.9 88.1 M291.4 74.4L282.2 88.1 M291.4 74.4L272.7 102.3 M329.3 73.3L347.7 73.1 M329.3 73.3L338.2 87.3 M329.3 73.3L319.6 86.8 M329.3 73.3L375.5 87.8 M347.7 73.1L365.4 73.1 M347.7 73.1L358.0 87.3 M347.7 73.1L338.2 87.3 M347.7 73.1L346.7 102.3 M347.7 73.1L384.5 74.1 M365.4 73.1L384.5 74.1 M365.4 73.1L375.5 87.8 M365.4 73.1L412.7 87.7 M384.5 74.1L395.1 86.9 M384.5 74.1L375.5 87.8 M384.5 74.1L385.0 100.7 M384.5 74.1L358.0 87.3 M263.5 88.2L282.2 88.1 M263.5 88.2L272.7 102.3 M263.5 88.2L293.4 101.4 M282.2 88.1L300.9 88.1 M282.2 88.1L293.4 101.4 M282.2 88.1L283.8 116.1 M282.2 88.1L310.3 102.7 M282.2 88.1L319.6 86.8 M282.2 88.1L301.4 115.2 M300.9 88.1L293.4 101.4 M300.9 88.1L310.3 102.7 M319.6 86.8L338.2 87.3 M319.6 86.8L310.3 102.7 M319.6 86.8L328.3 100.9 M319.6 86.8L346.7 102.3 M319.6 86.8L272.7 102.3 M319.6 86.8L358.0 87.3 M338.2 87.3L358.0 87.3 M338.2 87.3L328.3 100.9 M338.2 87.3L346.7 102.3 M338.2 87.3L338.8 116.6 M338.2 87.3L293.4 101.4 M358.0 87.3L375.5 87.8 M358.0 87.3L346.7 102.3 M358.0 87.3L366.9 101.6 M358.0 87.3L356.0 115.7 M358.0 87.3L385.0 100.7 M375.5 87.8L395.1 86.9 M375.5 87.8L366.9 101.6 M375.5 87.8L385.0 100.7 M375.5 87.8L328.3 100.9 M395.1 86.9L412.7 87.7 M395.1 86.9L385.0 100.7 M395.1 86.9L403.6 101.6 M395.1 86.9L394.9 116.3 M395.1 86.9L346.7 102.3 M395.1 86.9L412.8 116.2 M412.7 87.7L431.6 88.6 M412.7 87.7L403.6 101.6 M412.7 87.7L421.8 101.5 M412.7 87.7L412.8 116.2 M412.7 87.7L440.0 101.2 M412.7 87.7L394.9 116.3 M431.6 88.6L421.8 101.5 M431.6 88.6L440.0 101.2 M431.6 88.6L431.4 116.4 M272.7 102.3L293.4 101.4 M272.7 102.3L283.8 116.1 M272.7 102.3L263.9 116.1 M293.4 101.4L310.3 102.7 M293.4 101.4L301.4 115.2 M293.4 101.4L283.8 116.1 M293.4 101.4L263.9 116.1 M310.3 102.7L319.7 115.7 M310.3 102.7L301.4 115.2 M310.3 102.7L356.0 115.7 M310.3 102.7L328.8 129.3 M328.3 100.9L338.8 116.6 M328.3 100.9L319.7 115.7 M328.3 100.9L301.4 115.2 M328.3 100.9L311.9 128.7 M346.7 102.3L366.9 101.6 M346.7 102.3L356.0 115.7 M346.7 102.3L338.8 116.6 M346.7 102.3L347.5 129.0 M346.7 102.3L385.0 100.7 M366.9 101.6L375.5 116.1 M366.9 101.6L356.0 115.7 M366.9 101.6L338.8 116.6 M385.0 100.7L403.6 101.6 M385.0 100.7L394.9 116.3 M385.0 100.7L375.5 116.1 M385.0 100.7L384.3 130.6 M385.0 100.7L431.4 116.4 M385.0 100.7L421.8 101.5 M403.6 101.6L421.8 101.5 M403.6 101.6L412.8 116.2 M403.6 101.6L394.9 116.3 M403.6 101.6L375.5 116.1 M403.6 101.6L384.3 130.6 M421.8 101.5L440.0 101.2 M421.8 101.5L412.8 116.2 M421.8 101.5L440.7 129.1 M440.0 101.2L431.4 116.4 M440.0 101.2L440.7 129.1 M263.9 116.1L283.8 116.1 M263.9 116.1L273.5 129.9 M283.8 116.1L273.5 129.9 M283.8 116.1L284.1 143.3 M301.4 115.2L319.7 115.7 M301.4 115.2L293.0 130.6 M301.4 115.2L311.9 128.7 M301.4 115.2L300.9 144.4 M319.7 115.7L338.8 116.6 M319.7 115.7L311.9 128.7 M319.7 115.7L319.2 144.1 M338.8 116.6L328.8 129.3 M338.8 116.6L347.5 129.0 M338.8 116.6L319.2 144.1 M356.0 115.7L375.5 116.1 M356.0 115.7L347.5 129.0 M356.0 115.7L366.4 128.9 M356.0 115.7L384.3 130.6 M375.5 116.1L394.9 116.3 M375.5 116.1L384.3 130.6 M375.5 116.1L328.8 129.3 M394.9 116.3L412.8 116.2 M394.9 116.3L384.3 130.6 M394.9 116.3L403.8 129.6 M394.9 116.3L347.5 129.0 M394.9 116.3L431.4 116.4 M394.9 116.3L376.6 143.6 M412.8 116.2L431.4 116.4 M412.8 116.2L403.8 129.6 M412.8 116.2L420.8 130.6 M412.8 116.2L393.8 143.9 M431.4 116.4L420.8 130.6 M431.4 116.4L440.7 129.1 M273.5 129.9L293.0 130.6 M273.5 129.9L284.1 143.3 M293.0 130.6L311.9 128.7 M293.0 130.6L284.1 143.3 M293.0 130.6L328.8 129.3 M311.9 128.7L328.8 129.3 M311.9 128.7L319.2 144.1 M311.9 128.7L300.9 144.4 M311.9 128.7L347.5 129.0 M328.8 129.3L347.5 129.0 M328.8 129.3L319.2 144.1 M328.8 129.3L376.6 143.6 M347.5 129.0L366.4 128.9 M347.5 129.0L356.5 143.5 M347.5 129.0L319.2 144.1 M366.4 128.9L384.3 130.6 M366.4 128.9L376.6 143.6 M366.4 128.9L356.5 143.5 M366.4 128.9L337.8 143.9 M384.3 130.6L403.8 129.6 M384.3 130.6L393.8 143.9 M384.3 130.6L376.6 143.6 M403.8 129.6L420.8 130.6 M403.8 129.6L412.0 143.0 M403.8 129.6L393.8 143.9 M420.8 130.6L440.7 129.1 M420.8 130.6L412.0 143.0 M440.7 129.1L412.0 143.0 M284.1 143.3L300.9 144.4 M300.9 144.4L319.2 144.1 M319.2 144.1L337.8 143.9 M319.2 144.1L356.5 143.5 M337.8 143.9L356.5 143.5 M356.5 143.5L376.6 143.6 M376.6 143.6L393.8 143.9 M393.8 143.9L412.0 143.0 M291.4 74.4L302.2 80.0 M291.4 74.4L291.4 94.6 M329.3 73.3L329.1 94.1 M347.7 73.1L357.2 79.1 M365.4 73.1L376.2 79.5 M365.4 73.1L365.5 93.1 M384.5 74.1L376.2 79.5 M384.5 74.1L393.4 79.1 M384.5 74.1L385.6 93.5 M263.5 88.2L274.8 93.7 M282.2 88.1L291.4 94.6 M282.2 88.1L265.3 107.4 M282.2 88.1L282.3 80.6 M300.9 88.1L309.8 94.9 M300.9 88.1L302.2 80.0 M319.6 86.8L309.8 94.9 M319.6 86.8L329.1 94.1 M319.6 86.8L301.3 107.7 M338.2 87.3L347.4 94.0 M338.2 87.3L337.3 79.7 M358.0 87.3L347.4 94.0 M358.0 87.3L365.5 93.1 M358.0 87.3L339.7 107.8 M358.0 87.3L357.2 79.1 M375.5 87.8L365.5 93.1 M375.5 87.8L385.6 93.5 M375.5 87.8L355.9 107.2 M375.5 87.8L376.2 79.5 M395.1 86.9L385.6 93.5 M395.1 86.9L376.0 109.0 M395.1 86.9L393.4 79.1 M412.7 87.7L403.9 93.4 M431.6 88.6L422.9 94.8 M431.6 88.6L440.9 94.5 M431.6 88.6L412.6 108.5 M272.7 102.3L265.3 107.4 M272.7 102.3L273.4 122.9 M293.4 101.4L284.0 108.8 M293.4 101.4L301.3 107.7 M293.4 101.4L291.9 122.2 M293.4 101.4L309.8 94.9 M310.3 102.7L301.3 107.7 M310.3 102.7L310.3 121.2 M310.3 102.7L329.1 94.1 M328.3 100.9L328.2 122.6 M328.3 100.9L347.4 94.0 M346.7 102.3L348.4 121.7 M346.7 102.3L365.5 93.1 M366.9 101.6L376.0 109.0 M366.9 101.6L366.7 122.4 M366.9 101.6L385.6 93.5 M385.0 100.7L394.0 108.0 M385.0 100.7L385.7 122.9 M385.0 100.7L403.9 93.4 M403.6 101.6L394.0 108.0 M403.6 101.6L412.6 108.5 M403.6 101.6L403.0 123.0 M403.6 101.6L422.9 94.8 M421.8 101.5L430.3 108.2 M421.8 101.5L422.9 122.2 M421.8 101.5L440.9 94.5 M440.0 101.2L430.3 108.2 M263.9 116.1L273.4 122.9 M263.9 116.1L265.3 107.4 M283.8 116.1L273.4 122.9 M283.8 116.1L291.9 122.2 M283.8 116.1L284.0 108.8 M301.4 115.2L291.9 122.2 M301.4 115.2L283.7 136.0 M301.4 115.2L301.3 107.7 M319.7 115.7L302.3 135.1 M338.8 116.6L328.2 122.6 M338.8 116.6L348.4 121.7 M338.8 116.6L319.4 135.6 M356.0 115.7L348.4 121.7 M356.0 115.7L366.7 122.4 M356.0 115.7L338.3 135.3 M375.5 116.1L366.7 122.4 M375.5 116.1L356.0 135.7 M375.5 116.1L376.0 109.0 M394.9 116.3L403.0 123.0 M394.9 116.3L376.5 137.0 M394.9 116.3L394.0 108.0 M412.8 116.2L403.0 123.0 M412.8 116.2L422.9 122.2 M412.8 116.2L394.6 136.0 M412.8 116.2L412.6 108.5 M431.4 116.4L422.9 122.2 M431.4 116.4L441.2 122.0 M431.4 116.4L411.9 136.9 M431.4 116.4L430.3 108.2 M273.5 129.9L291.9 122.2 M293.0 130.6L283.7 136.0 M293.0 130.6L302.3 135.1 M293.0 130.6L310.3 121.2 M311.9 128.7L319.4 135.6 M311.9 128.7L328.2 122.6 M328.8 129.3L319.4 135.6 M328.8 129.3L338.3 135.3 M347.5 129.0L338.3 135.3 M347.5 129.0L356.0 135.7 M347.5 129.0L366.7 122.4 M366.4 128.9L385.7 122.9 M384.3 130.6L376.5 137.0 M384.3 130.6L403.0 123.0 M403.8 129.6L394.6 136.0 M403.8 129.6L411.9 136.9 M403.8 129.6L422.9 122.2 M420.8 130.6L411.9 136.9 M420.8 130.6L431.1 136.5 M420.8 130.6L441.2 122.0 M284.1 143.3L283.7 136.0 M300.9 144.4L302.3 135.1 M337.8 143.9L338.3 135.3 M356.5 143.5L356.0 135.7 M376.6 143.6L376.5 137.0 M412.0 143.0L411.9 136.9" stroke="#8080c0" stroke-width="2.3" stroke-linecap="round" fill="none"/>
<path d="M282.3 80.6L302.2 80.0 M282.3 80.6L291.4 94.6 M282.3 80.6L329.1 94.1 M282.3 80.6L301.3 107.7 M302.2 80.0L320.0 79.5 M302.2 80.0L309.8 94.9 M302.2 80.0L291.4 94.6 M302.2 80.0L347.4 94.0 M302.2 80.0L274.8 93.7 M320.0 79.5L337.3 79.7 M320.0 79.5L329.1 94.1 M320.0 79.5L309.8 94.9 M320.0 79.5L291.4 94.6 M320.0 79.5L357.2 79.1 M337.3 79.7L357.2 79.1 M337.3 79.7L347.4 94.0 M337.3 79.7L329.1 94.1 M337.3 79.7L376.2 79.5 M357.2 79.1L376.2 79.5 M357.2 79.1L347.4 94.0 M357.2 79.1L403.9 93.4 M357.2 79.1L329.1 94.1 M376.2 79.5L393.4 79.1 M376.2 79.5L385.6 93.5 M376.2 79.5L365.5 93.1 M376.2 79.5L422.9 94.8 M376.2 79.5L347.4 94.0 M393.4 79.1L403.9 93.4 M393.4 79.1L385.6 93.5 M393.4 79.1L365.5 93.1 M393.4 79.1L376.0 109.0 M413.7 80.5L422.9 94.8 M413.7 80.5L403.9 93.4 M413.7 80.5L412.6 108.5 M274.8 93.7L291.4 94.6 M274.8 93.7L265.3 107.4 M274.8 93.7L284.0 108.8 M274.8 93.7L273.4 122.9 M274.8 93.7L301.3 107.7 M274.8 93.7L309.8 94.9 M291.4 94.6L309.8 94.9 M291.4 94.6L284.0 108.8 M291.4 94.6L301.3 107.7 M309.8 94.9L329.1 94.1 M309.8 94.9L301.3 107.7 M309.8 94.9L319.9 107.8 M309.8 94.9L347.4 94.0 M309.8 94.9L291.9 122.2 M329.1 94.1L347.4 94.0 M329.1 94.1L319.9 107.8 M347.4 94.0L339.7 107.8 M347.4 94.0L355.9 107.2 M365.5 93.1L385.6 93.5 M365.5 93.1L376.0 109.0 M365.5 93.1L394.0 108.0 M385.6 93.5L403.9 93.4 M385.6 93.5L394.0 108.0 M385.6 93.5L385.7 122.9 M385.6 93.5L339.7 107.8 M403.9 93.4L422.9 94.8 M403.9 93.4L394.0 108.0 M403.9 93.4L412.6 108.5 M403.9 93.4L355.9 107.2 M403.9 93.4L385.7 122.9 M422.9 94.8L440.9 94.5 M422.9 94.8L412.6 108.5 M422.9 94.8L430.3 108.2 M422.9 94.8L376.0 109.0 M422.9 94.8L441.2 122.0 M440.9 94.5L430.3 108.2 M440.9 94.5L422.9 122.2 M265.3 107.4L284.0 108.8 M265.3 107.4L273.4 122.9 M265.3 107.4L310.3 121.2 M265.3 107.4L283.7 136.0 M284.0 108.8L301.3 107.7 M284.0 108.8L291.9 122.2 M284.0 108.8L273.4 122.9 M284.0 108.8L328.2 122.6 M284.0 108.8L319.9 107.8 M301.3 107.7L319.9 107.8 M301.3 107.7L310.3 121.2 M301.3 107.7L291.9 122.2 M301.3 107.7L283.7 136.0 M319.9 107.8L328.2 122.6 M319.9 107.8L310.3 121.2 M319.9 107.8L366.7 122.4 M319.9 107.8L355.9 107.2 M319.9 107.8L338.3 135.3 M339.7 107.8L355.9 107.2 M339.7 107.8L348.4 121.7 M339.7 107.8L328.2 122.6 M339.7 107.8L356.0 135.7 M355.9 107.2L376.0 109.0 M355.9 107.2L348.4 121.7 M355.9 107.2L328.2 122.6 M376.0 109.0L394.0 108.0 M376.0 109.0L385.7 122.9 M376.0 109.0L366.7 122.4 M376.0 109.0L422.9 122.2 M376.0 109.0L348.4 121.7 M376.0 109.0L412.6 108.5 M394.0 108.0L412.6 108.5 M394.0 108.0L403.0 123.0 M394.0 108.0L385.7 122.9 M394.0 108.0L366.7 122.4 M394.0 108.0L430.3 108.2 M394.0 108.0L376.5 137.0 M412.6 108.5L430.3 108.2 M412.6 108.5L422.9 122.2 M412.6 108.5L403.0 123.0 M430.3 108.2L422.9 122.2 M273.4 122.9L291.9 122.2 M273.4 122.9L283.7 136.0 M273.4 122.9L302.3 135.1 M291.9 122.2L310.3 121.2 M291.9 122.2L283.7 136.0 M291.9 122.2L302.3 135.1 M291.9 122.2L328.2 122.6 M310.3 121.2L328.2 122.6 M310.3 121.2L302.3 135.1 M310.3 121.2L319.4 135.6 M310.3 121.2L338.3 135.3 M328.2 122.6L348.4 121.7 M328.2 122.6L319.4 135.6 M328.2 122.6L338.3 135.3 M328.2 122.6L283.7 136.0 M348.4 121.7L366.7 122.4 M348.4 121.7L338.3 135.3 M348.4 121.7L356.0 135.7 M348.4 121.7L376.5 137.0 M348.4 121.7L302.3 135.1 M366.7 122.4L385.7 122.9 M366.7 122.4L356.0 135.7 M366.7 122.4L376.5 137.0 M366.7 122.4L319.4 135.6 M366.7 122.4L403.0 123.0 M385.7 122.9L403.0 123.0 M385.7 122.9L376.5 137.0 M385.7 122.9L394.6 136.0 M403.0 123.0L422.9 122.2 M403.0 123.0L394.6 136.0 M422.9 122.2L441.2 122.0 M422.9 122.2L411.9 136.9 M422.9 122.2L431.1 136.5 M441.2 122.0L431.1 136.5 M283.7 136.0L302.3 135.1 M302.3 135.1L319.4 135.6 M319.4 135.6L338.3 135.3 M338.3 135.3L356.0 135.7 M338.3 135.3L376.5 137.0 M356.0 135.7L376.5 137.0 M356.0 135.7L394.6 136.0 M376.5 137.0L394.6 136.0 M394.6 136.0L411.9 136.9 M411.9 136.9L431.1 136.5" stroke="#6767ab" stroke-width="2.4" stroke-linecap="round" fill="none"/>
<path d="M282.3 80.6L302.2 80.0 M282.3 80.6L329.1 94.1 M302.2 80.0L320.0 79.5 M302.2 80.0L291.4 94.6 M302.2 80.0L274.8 93.7 M320.0 79.5L329.1 94.1 M320.0 79.5L291.4 94.6 M337.3 79.7L357.2 79.1 M337.3 79.7L329.1 94.1 M357.2 79.1L376.2 79.5 M357.2 79.1L403.9 93.4 M376.2 79.5L393.4 79.1 M376.2 79.5L365.5 93.1 M376.2 79.5L347.4 94.0 M393.4 79.1L385.6 93.5 M393.4 79.1L376.0 109.0 M413.7 80.5L403.9 93.4 M274.8 93.7L291.4 94.6 M274.8 93.7L284.0 108.8 M274.8 93.7L301.3 107.7 M291.4 94.6L309.8 94.9 M291.4 94.6L301.3 107.7 M309.8 94.9L301.3 107.7 M309.8 94.9L347.4 94.0 M329.1 94.1L347.4 94.0 M347.4 94.0L339.7 107.8 M365.5 93.1L385.6 93.5 M365.5 93.1L394.0 108.0 M385.6 93.5L394.0 108.0 M385.6 93.5L339.7 107.8 M403.9 93.4L394.0 108.0 M403.9 93.4L355.9 107.2 M422.9 94.8L440.9 94.5 M422.9 94.8L430.3 108.2 M422.9 94.8L441.2 122.0 M440.9 94.5L422.9 122.2 M265.3 107.4L273.4 122.9 M265.3 107.4L283.7 136.0 M284.0 108.8L291.9 122.2 M284.0 108.8L328.2 122.6 M301.3 107.7L319.9 107.8 M301.3 107.7L291.9 122.2 M319.9 107.8L328.2 122.6 M319.9 107.8L366.7 122.4 M319.9 107.8L338.3 135.3 M339.7 107.8L348.4 121.7 M339.7 107.8L356.0 135.7 M355.9 107.2L348.4 121.7 M376.0 109.0L394.0 108.0 M376.0 109.0L366.7 122.4 M376.0 109.0L348.4 121.7 M394.0 108.0L412.6 108.5 M394.0 108.0L385.7 122.9 M394.0 108.0L430.3 108.2 M412.6 108.5L430.3 108.2 M412.6 108.5L403.0 123.0 M273.4 122.9L291.9 122.2 M273.4 122.9L302.3 135.1 M291.9 122.2L283.7 136.0 M291.9 122.2L328.2 122.6 M310.3 121.2L302.3 135.1 M310.3 121.2L338.3 135.3 M328.2 122.6L319.4 135.6 M328.2 122.6L283.7 136.0 M348.4 121.7L338.3 135.3 M348.4 121.7L376.5 137.0 M366.7 122.4L385.7 122.9 M366.7 122.4L376.5 137.0 M366.7 122.4L403.0 123.0 M385.7 122.9L376.5 137.0 M403.0 123.0L422.9 122.2 M422.9 122.2L441.2 122.0 M422.9 122.2L431.1 136.5 M283.7 136.0L302.3 135.1 M319.4 135.6L338.3 135.3 M338.3 135.3L376.5 137.0 M356.0 135.7L394.6 136.0 M394.6 136.0L411.9 136.9" stroke="#a8a8e0" stroke-width="0.6" fill="none" transform="translate(-0.4,-0.6)"/>
<line x1="404.1" y1="85.4" x2="393.4" y2="79.1" stroke="#9a9a9a" stroke-width="1.8"/>
<circle cx="404.1" cy="85.4" r="3.7" fill="url(#gball)"/>
<line x1="394.4" y1="99.8" x2="385.6" y2="93.5" stroke="#9a9a9a" stroke-width="1.8"/>
<circle cx="394.4" cy="99.8" r="3.7" fill="url(#gball)"/>
<line x1="365.7" y1="113.5" x2="355.9" y2="107.2" stroke="#9a9a9a" stroke-width="1.8"/>
<circle cx="365.7" cy="113.5" r="3.7" fill="url(#gball)"/>
<line x1="384.5" y1="115.3" x2="376.0" y2="109.0" stroke="#9a9a9a" stroke-width="1.8"/>
<circle cx="384.5" cy="115.3" r="3.7" fill="url(#gball)"/>
<line x1="404.3" y1="114.3" x2="394.0" y2="108.0" stroke="#9a9a9a" stroke-width="1.8"/>
<circle cx="404.3" cy="114.3" r="3.7" fill="url(#gball)"/>
<line x1="422.7" y1="114.8" x2="412.6" y2="108.5" stroke="#9a9a9a" stroke-width="1.8"/>
<circle cx="422.7" cy="114.8" r="3.7" fill="url(#gball)"/>
<line x1="438.4" y1="114.5" x2="430.3" y2="108.2" stroke="#9a9a9a" stroke-width="1.8"/>
<circle cx="438.4" cy="114.5" r="3.7" fill="url(#gball)"/>
<line x1="320.0" y1="127.5" x2="310.3" y2="121.2" stroke="#9a9a9a" stroke-width="1.8"/>
<circle cx="320.0" cy="127.5" r="3.7" fill="url(#gball)"/>
<line x1="374.0" y1="128.7" x2="366.7" y2="122.4" stroke="#9a9a9a" stroke-width="1.8"/>
<circle cx="374.0" cy="128.7" r="3.7" fill="url(#gball)"/>
<line x1="396.5" y1="129.2" x2="385.7" y2="122.9" stroke="#9a9a9a" stroke-width="1.8"/>
<circle cx="396.5" cy="129.2" r="3.7" fill="url(#gball)"/>
<line x1="312.7" y1="141.4" x2="302.3" y2="135.1" stroke="#9a9a9a" stroke-width="1.8"/>
<circle cx="312.7" cy="141.4" r="3.7" fill="url(#gball)"/>
<line x1="405.0" y1="142.3" x2="394.6" y2="136.0" stroke="#9a9a9a" stroke-width="1.8"/>
<circle cx="405.0" cy="142.3" r="3.7" fill="url(#gball)"/>
<line x1="421.6" y1="143.2" x2="411.9" y2="136.9" stroke="#9a9a9a" stroke-width="1.8"/>
<circle cx="421.6" cy="143.2" r="3.7" fill="url(#gball)"/>
<circle cx="347.7" cy="73.1" r="3.0" fill="url(#pball)"/>
<circle cx="365.4" cy="73.1" r="3.0" fill="url(#pball)"/>
<circle cx="300.9" cy="88.1" r="3.0" fill="url(#pball)"/>
<circle cx="358.0" cy="87.3" r="3.0" fill="url(#pball)"/>
<circle cx="431.6" cy="88.6" r="3.0" fill="url(#pball)"/>
<circle cx="328.3" cy="100.9" r="3.0" fill="url(#pball)"/>
<circle cx="385.0" cy="100.7" r="3.0" fill="url(#pball)"/>
<circle cx="440.0" cy="101.2" r="3.0" fill="url(#pball)"/>
<circle cx="283.8" cy="116.1" r="3.0" fill="url(#pball)"/>
<circle cx="412.8" cy="116.2" r="3.0" fill="url(#pball)"/>
<circle cx="366.4" cy="128.9" r="3.0" fill="url(#pball)"/>
<circle cx="403.8" cy="129.6" r="3.0" fill="url(#pball)"/>
<circle cx="440.7" cy="129.1" r="3.0" fill="url(#pball)"/>
<circle cx="300.9" cy="144.4" r="3.0" fill="url(#pball)"/>
<circle cx="376.6" cy="143.6" r="3.0" fill="url(#pball)"/>
<circle cx="282.3" cy="80.6" r="3.4" fill="url(#pball)"/>
<circle cx="320.0" cy="79.5" r="3.4" fill="url(#pball)"/>
<circle cx="337.3" cy="79.7" r="3.4" fill="url(#pball)"/>
<circle cx="357.2" cy="79.1" r="3.4" fill="url(#pball)"/>
<circle cx="376.2" cy="79.5" r="3.4" fill="url(#pball)"/>
<circle cx="393.4" cy="79.1" r="3.4" fill="url(#pball)"/>
<circle cx="274.8" cy="93.7" r="3.4" fill="url(#pball)"/>
<circle cx="291.4" cy="94.6" r="3.4" fill="url(#pball)"/>
<circle cx="329.1" cy="94.1" r="3.4" fill="url(#pball)"/>
<circle cx="347.4" cy="94.0" r="3.4" fill="url(#pball)"/>
<circle cx="365.5" cy="93.1" r="3.4" fill="url(#pball)"/>
<circle cx="385.6" cy="93.5" r="3.4" fill="url(#pball)"/>
<circle cx="403.9" cy="93.4" r="3.4" fill="url(#pball)"/>
<circle cx="422.9" cy="94.8" r="3.4" fill="url(#pball)"/>
<circle cx="265.3" cy="107.4" r="3.4" fill="url(#pball)"/>
<circle cx="284.0" cy="108.8" r="3.4" fill="url(#pball)"/>
<circle cx="319.9" cy="107.8" r="3.4" fill="url(#pball)"/>
<circle cx="355.9" cy="107.2" r="3.4" fill="url(#pball)"/>
<circle cx="394.0" cy="108.0" r="3.4" fill="url(#pball)"/>
<circle cx="310.3" cy="121.2" r="3.4" fill="url(#pball)"/>
<circle cx="348.4" cy="121.7" r="3.4" fill="url(#pball)"/>
<circle cx="366.7" cy="122.4" r="3.4" fill="url(#pball)"/>
<circle cx="385.7" cy="122.9" r="3.4" fill="url(#pball)"/>
<circle cx="283.7" cy="136.0" r="3.4" fill="url(#pball)"/>
<circle cx="302.3" cy="135.1" r="3.4" fill="url(#pball)"/>
<circle cx="319.4" cy="135.6" r="3.4" fill="url(#pball)"/>
<circle cx="376.5" cy="137.0" r="3.4" fill="url(#pball)"/>
<circle cx="394.6" cy="136.0" r="3.4" fill="url(#pball)"/>
<circle cx="431.1" cy="136.5" r="3.4" fill="url(#pball)"/>
<path d="M263.0 96.0L270.6 94.4 M263.0 96.0L274.9 97.4 M263.0 96.0L266.1 101.7 M263.0 96.0L257.9 90.2 M263.0 96.0L269.4 91.7 M263.0 96.0L271.5 94.2 M263.0 96.0L253.6 90.5 M263.0 96.0L258.4 87.5 M263.0 96.0L261.1 90.3 M263.0 96.0L270.4 90.6 M266.0 125.0L263.5 130.0 M266.0 125.0L270.9 119.6 M266.0 125.0L274.4 122.2 M266.0 125.0L274.0 123.4 M266.0 125.0L263.3 118.6 M266.0 125.0L265.5 132.9 M444.0 100.0L440.5 106.7 M444.0 100.0L452.3 98.1 M444.0 100.0L449.8 105.8 M444.0 100.0L440.7 95.3 M444.0 100.0L451.7 102.0 M444.0 100.0L453.5 101.6 M442.0 130.0L433.1 129.7 M442.0 130.0L434.0 134.1 M442.0 130.0L448.9 126.8 M442.0 130.0L435.6 135.2 M442.0 130.0L439.3 137.1 M442.0 130.0L433.8 128.2 M442.0 130.0L437.9 123.7 M290.0 74.0L297.6 77.8 M290.0 74.0L285.7 78.4 M290.0 74.0L282.8 78.0 M290.0 74.0L296.9 72.3 M290.0 74.0L285.3 76.7 M400.0 73.0L404.8 70.1 M400.0 73.0L393.6 71.5 M400.0 73.0L396.8 77.7 M400.0 73.0L402.0 77.1 M400.0 73.0L391.9 71.5" stroke="#7c7cc0" stroke-width="1.9" stroke-linecap="round" fill="none"/>
<circle cx="263.0" cy="96.0" r="3.1" fill="url(#pball)"/>
<circle cx="266.0" cy="125.0" r="3.1" fill="url(#pball)"/>
<circle cx="444.0" cy="100.0" r="3.1" fill="url(#pball)"/>
<circle cx="442.0" cy="130.0" r="3.1" fill="url(#pball)"/>
<circle cx="290.0" cy="74.0" r="3.1" fill="url(#pball)"/>
<circle cx="400.0" cy="73.0" r="3.1" fill="url(#pball)"/>
<path d="M524.6 68.3L534.8 81.7 M524.6 68.3L515.0 81.2 M524.6 68.3L571.0 81.1 M524.6 68.3L497.2 82.2 M544.3 68.4L561.1 67.9 M544.3 68.4L534.8 81.7 M544.3 68.4L515.0 81.2 M544.3 68.4L581.7 67.2 M544.3 68.4L525.3 95.3 M561.1 67.9L581.7 67.2 M561.1 67.9L553.0 82.6 M561.1 67.9L608.0 81.6 M561.1 67.9L542.8 95.8 M581.7 67.2L598.5 68.3 M581.7 67.2L588.9 81.7 M581.7 67.2L571.0 81.1 M581.7 67.2L580.9 96.6 M598.5 68.3L617.4 67.5 M598.5 68.3L588.9 81.7 M598.5 68.3L637.0 67.5 M617.4 67.5L637.0 67.5 M617.4 67.5L608.0 81.6 M637.0 67.5L654.0 67.1 M637.0 67.5L608.0 81.6 M637.0 67.5L618.6 95.3 M654.0 67.1L672.9 68.1 M654.0 67.1L663.5 82.5 M654.0 67.1L645.2 82.2 M654.0 67.1L636.0 96.1 M672.9 68.1L663.5 82.5 M497.2 82.2L515.0 81.2 M497.2 82.2L507.0 96.4 M497.2 82.2L525.3 95.3 M497.2 82.2L514.9 110.6 M515.0 81.2L534.8 81.7 M515.0 81.2L507.0 96.4 M515.0 81.2L525.3 95.3 M534.8 81.7L525.3 95.3 M534.8 81.7L542.8 95.8 M534.8 81.7L561.5 95.4 M553.0 82.6L571.0 81.1 M553.0 82.6L542.8 95.8 M553.0 82.6L561.5 95.4 M553.0 82.6L570.4 109.2 M571.0 81.1L588.9 81.7 M571.0 81.1L580.9 96.6 M571.0 81.1L525.3 95.3 M571.0 81.1L608.0 81.6 M588.9 81.7L608.0 81.6 M588.9 81.7L580.9 96.6 M588.9 81.7L599.7 95.7 M588.9 81.7L618.6 95.3 M608.0 81.6L625.8 80.7 M608.0 81.6L599.7 95.7 M608.0 81.6L618.6 95.3 M608.0 81.6L561.5 95.4 M625.8 80.7L645.2 82.2 M625.8 80.7L618.6 95.3 M625.8 80.7L636.0 96.1 M625.8 80.7L654.9 95.1 M625.8 80.7L580.9 96.6 M645.2 82.2L663.5 82.5 M645.2 82.2L636.0 96.1 M645.2 82.2L654.9 95.1 M663.5 82.5L654.9 95.1 M663.5 82.5L673.0 96.3 M663.5 82.5L663.9 109.0 M663.5 82.5L618.6 95.3 M507.0 96.4L525.3 95.3 M507.0 96.4L514.9 110.6 M507.0 96.4L496.9 110.1 M525.3 95.3L542.8 95.8 M525.3 95.3L534.9 109.3 M525.3 95.3L514.9 110.6 M525.3 95.3L570.4 109.2 M525.3 95.3L561.5 95.4 M542.8 95.8L561.5 95.4 M542.8 95.8L554.2 110.3 M542.8 95.8L534.9 109.3 M542.8 95.8L514.9 110.6 M561.5 95.4L580.9 96.6 M561.5 95.4L554.2 110.3 M561.5 95.4L561.5 122.9 M561.5 95.4L607.6 108.8 M561.5 95.4L534.9 109.3 M580.9 96.6L599.7 95.7 M580.9 96.6L590.0 110.7 M580.9 96.6L570.4 109.2 M580.9 96.6L626.6 108.8 M599.7 95.7L618.6 95.3 M599.7 95.7L607.6 108.8 M599.7 95.7L590.0 110.7 M618.6 95.3L636.0 96.1 M618.6 95.3L626.6 108.8 M618.6 95.3L607.6 108.8 M618.6 95.3L617.3 123.5 M618.6 95.3L590.0 110.7 M636.0 96.1L654.9 95.1 M636.0 96.1L645.3 109.8 M636.0 96.1L626.6 108.8 M636.0 96.1L636.1 124.6 M636.0 96.1L655.2 124.4 M654.9 95.1L663.9 109.0 M673.0 96.3L663.9 109.0 M496.9 110.1L506.7 124.1 M514.9 110.6L506.7 124.1 M514.9 110.6L526.2 124.4 M514.9 110.6L554.2 110.3 M534.9 109.3L554.2 110.3 M534.9 109.3L526.2 124.4 M534.9 109.3L544.3 123.4 M534.9 109.3L561.5 122.9 M554.2 110.3L570.4 109.2 M554.2 110.3L544.3 123.4 M554.2 110.3L561.5 122.9 M554.2 110.3L535.5 138.2 M570.4 109.2L590.0 110.7 M570.4 109.2L561.5 122.9 M570.4 109.2L581.6 122.8 M570.4 109.2L599.4 124.5 M570.4 109.2L607.6 108.8 M570.4 109.2L589.9 137.0 M590.0 110.7L607.6 108.8 M590.0 110.7L599.4 124.5 M590.0 110.7L571.6 138.3 M607.6 108.8L626.6 108.8 M607.6 108.8L599.4 124.5 M607.6 108.8L617.3 123.5 M607.6 108.8L561.5 122.9 M607.6 108.8L645.3 109.8 M626.6 108.8L645.3 109.8 M626.6 108.8L617.3 123.5 M626.6 108.8L636.1 124.6 M626.6 108.8L655.2 124.4 M626.6 108.8L663.9 109.0 M626.6 108.8L608.7 138.4 M645.3 109.8L663.9 109.0 M645.3 109.8L636.1 124.6 M645.3 109.8L655.2 124.4 M645.3 109.8L645.2 137.2 M663.9 109.0L655.2 124.4 M663.9 109.0L672.1 124.2 M506.7 124.1L526.2 124.4 M506.7 124.1L516.8 138.2 M506.7 124.1L554.0 137.6 M506.7 124.1L544.3 123.4 M526.2 124.4L544.3 123.4 M526.2 124.4L535.5 138.2 M526.2 124.4L516.8 138.2 M526.2 124.4L571.6 138.3 M526.2 124.4L561.5 122.9 M544.3 123.4L561.5 122.9 M544.3 123.4L554.0 137.6 M544.3 123.4L535.5 138.2 M561.5 122.9L581.6 122.8 M561.5 122.9L571.6 138.3 M561.5 122.9L554.0 137.6 M561.5 122.9L535.5 138.2 M581.6 122.8L599.4 124.5 M581.6 122.8L589.9 137.0 M581.6 122.8L571.6 138.3 M581.6 122.8L627.9 137.0 M599.4 124.5L617.3 123.5 M599.4 124.5L608.7 138.4 M599.4 124.5L645.2 137.2 M599.4 124.5L571.6 138.3 M617.3 123.5L636.1 124.6 M617.3 123.5L627.9 137.0 M617.3 123.5L608.7 138.4 M617.3 123.5L589.9 137.0 M636.1 124.6L655.2 124.4 M636.1 124.6L645.2 137.2 M636.1 124.6L627.9 137.0 M636.1 124.6L608.7 138.4 M655.2 124.4L672.1 124.2 M655.2 124.4L663.6 138.6 M655.2 124.4L645.2 137.2 M672.1 124.2L663.6 138.6 M672.1 124.2L645.2 137.2 M516.8 138.2L535.5 138.2 M554.0 137.6L571.6 138.3 M571.6 138.3L589.9 137.0 M589.9 137.0L608.7 138.4 M608.7 138.4L627.9 137.0 M627.9 137.0L645.2 137.2 M645.2 137.2L663.6 138.6 M524.6 68.3L515.1 73.2 M524.6 68.3L533.9 74.5 M524.6 68.3L526.3 88.7 M544.3 68.4L533.9 74.5 M544.3 68.4L552.2 74.5 M561.1 67.9L571.9 73.3 M561.1 67.9L563.1 89.0 M581.7 67.2L571.9 73.3 M581.7 67.2L590.1 73.9 M581.7 67.2L579.6 88.5 M598.5 68.3L590.1 73.9 M598.5 68.3L600.1 88.3 M617.4 67.5L617.1 88.6 M637.0 67.5L626.0 73.0 M637.0 67.5L636.8 87.4 M654.0 67.1L646.6 73.8 M672.9 68.1L663.3 73.7 M672.9 68.1L672.1 87.7 M497.2 82.2L507.0 88.1 M515.0 81.2L526.3 88.7 M515.0 81.2L497.9 102.7 M515.0 81.2L515.1 73.2 M534.8 81.7L543.4 87.4 M534.8 81.7L517.1 103.0 M534.8 81.7L533.9 74.5 M553.0 82.6L543.4 87.4 M553.0 82.6L563.1 89.0 M553.0 82.6L535.7 102.6 M553.0 82.6L552.2 74.5 M571.0 81.1L579.6 88.5 M571.0 81.1L552.5 101.4 M571.0 81.1L571.9 73.3 M588.9 81.7L579.6 88.5 M588.9 81.7L600.1 88.3 M588.9 81.7L571.8 102.1 M588.9 81.7L590.1 73.9 M608.0 81.6L600.1 88.3 M608.0 81.6L590.4 101.2 M625.8 80.7L617.1 88.6 M625.8 80.7L636.8 87.4 M625.8 80.7L607.8 102.8 M625.8 80.7L626.0 73.0 M645.2 82.2L655.1 87.4 M645.2 82.2L627.2 102.4 M663.5 82.5L655.1 87.4 M663.5 82.5L672.1 87.7 M663.5 82.5L644.5 101.8 M663.5 82.5L663.3 73.7 M507.0 96.4L497.9 102.7 M507.0 96.4L517.1 103.0 M507.0 96.4L526.3 88.7 M525.3 95.3L517.1 103.0 M525.3 95.3L543.4 87.4 M542.8 95.8L535.7 102.6 M542.8 95.8L552.5 101.4 M542.8 95.8L563.1 89.0 M561.5 95.4L561.3 115.4 M561.5 95.4L579.6 88.5 M580.9 96.6L571.8 102.1 M580.9 96.6L590.4 101.2 M580.9 96.6L600.1 88.3 M599.7 95.7L590.4 101.2 M599.7 95.7L607.8 102.8 M599.7 95.7L600.1 116.0 M618.6 95.3L607.8 102.8 M618.6 95.3L627.2 102.4 M618.6 95.3L617.7 116.6 M636.0 96.1L644.5 101.8 M636.0 96.1L655.1 87.4 M654.9 95.1L644.5 101.8 M654.9 95.1L665.0 102.3 M654.9 95.1L655.0 116.3 M654.9 95.1L672.1 87.7 M673.0 96.3L665.0 102.3 M673.0 96.3L672.1 115.2 M496.9 110.1L506.6 116.6 M496.9 110.1L497.9 102.7 M514.9 110.6L506.6 116.6 M514.9 110.6L517.1 103.0 M534.9 109.3L525.4 115.2 M534.9 109.3L542.8 117.0 M534.9 109.3L516.6 129.5 M534.9 109.3L535.7 102.6 M554.2 110.3L535.1 131.0 M554.2 110.3L552.5 101.4 M570.4 109.2L561.3 115.4 M570.4 109.2L580.4 116.4 M570.4 109.2L552.6 129.0 M590.0 110.7L580.4 116.4 M590.0 110.7L571.2 129.6 M590.0 110.7L590.4 101.2 M607.6 108.8L600.1 116.0 M607.6 108.8L617.7 116.6 M607.6 108.8L589.2 129.1 M607.6 108.8L607.8 102.8 M626.6 108.8L617.7 116.6 M626.6 108.8L635.7 115.7 M626.6 108.8L607.6 130.7 M626.6 108.8L627.2 102.4 M645.3 109.8L655.0 116.3 M645.3 109.8L644.5 101.8 M663.9 109.0L672.1 115.2 M663.9 109.0L644.8 129.4 M663.9 109.0L665.0 102.3 M506.7 124.1L525.4 115.2 M526.2 124.4L516.6 129.5 M526.2 124.4L535.1 131.0 M526.2 124.4L542.8 117.0 M544.3 123.4L535.1 131.0 M544.3 123.4L552.6 129.0 M544.3 123.4L543.7 144.4 M544.3 123.4L561.3 115.4 M561.5 122.9L562.2 143.3 M561.5 122.9L580.4 116.4 M581.6 122.8L571.2 129.6 M581.6 122.8L579.8 144.6 M599.4 124.5L607.6 130.7 M617.3 123.5L607.6 130.7 M617.3 123.5L618.2 144.2 M636.1 124.6L644.8 129.4 M636.1 124.6L635.4 144.7 M636.1 124.6L655.0 116.3 M655.2 124.4L644.8 129.4 M655.2 124.4L664.8 129.6 M655.2 124.4L672.1 115.2 M672.1 124.2L664.8 129.6 M516.8 138.2L525.3 144.4 M516.8 138.2L516.6 129.5 M535.5 138.2L525.3 144.4 M535.5 138.2L543.7 144.4 M535.5 138.2L535.1 131.0 M554.0 137.6L543.7 144.4 M571.6 138.3L562.2 143.3 M571.6 138.3L579.8 144.6 M571.6 138.3L571.2 129.6 M589.9 137.0L579.8 144.6 M589.9 137.0L589.2 129.1 M608.7 138.4L599.8 144.9 M608.7 138.4L607.6 130.7 M627.9 137.0L635.4 144.7 M627.9 137.0L625.9 130.2 M645.2 137.2L644.8 129.4" stroke="#8080c0" stroke-width="2.3" stroke-linecap="round" fill="none"/>
<path d="M515.1 73.2L533.9 74.5 M515.1 73.2L526.3 88.7 M515.1 73.2L507.0 88.1 M515.1 73.2L563.1 89.0 M515.1 73.2L552.2 74.5 M515.1 73.2L497.9 102.7 M533.9 74.5L552.2 74.5 M533.9 74.5L526.3 88.7 M533.9 74.5L571.9 73.3 M552.2 74.5L571.9 73.3 M552.2 74.5L600.1 88.3 M552.2 74.5L590.1 73.9 M552.2 74.5L571.8 102.1 M571.9 73.3L590.1 73.9 M571.9 73.3L579.6 88.5 M571.9 73.3L563.1 89.0 M571.9 73.3L617.1 88.6 M590.1 73.9L600.1 88.3 M590.1 73.9L579.6 88.5 M590.1 73.9L636.8 87.4 M608.3 75.0L626.0 73.0 M608.3 75.0L607.8 102.8 M608.3 75.0L655.1 87.4 M608.3 75.0L646.6 73.8 M626.0 73.0L646.6 73.8 M626.0 73.0L636.8 87.4 M626.0 73.0L617.1 88.6 M626.0 73.0L672.1 87.7 M626.0 73.0L663.3 73.7 M646.6 73.8L663.3 73.7 M646.6 73.8L636.8 87.4 M663.3 73.7L672.1 87.7 M663.3 73.7L655.1 87.4 M663.3 73.7L636.8 87.4 M507.0 88.1L526.3 88.7 M507.0 88.1L497.9 102.7 M507.0 88.1L517.1 103.0 M507.0 88.1L535.7 102.6 M526.3 88.7L543.4 87.4 M526.3 88.7L535.7 102.6 M526.3 88.7L525.4 115.2 M526.3 88.7L552.5 101.4 M526.3 88.7L563.1 89.0 M543.4 87.4L563.1 89.0 M543.4 87.4L535.7 102.6 M543.4 87.4L552.5 101.4 M543.4 87.4L542.8 117.0 M543.4 87.4L497.9 102.7 M543.4 87.4L579.6 88.5 M543.4 87.4L525.4 115.2 M563.1 89.0L579.6 88.5 M563.1 89.0L552.5 101.4 M563.1 89.0L571.8 102.1 M563.1 89.0L561.3 115.4 M563.1 89.0L590.4 101.2 M563.1 89.0L517.1 103.0 M563.1 89.0L600.1 88.3 M579.6 88.5L571.8 102.1 M579.6 88.5L607.8 102.8 M600.1 88.3L617.1 88.6 M600.1 88.3L590.4 101.2 M600.1 88.3L607.8 102.8 M600.1 88.3L627.2 102.4 M600.1 88.3L552.5 101.4 M600.1 88.3L636.8 87.4 M617.1 88.6L607.8 102.8 M617.1 88.6L627.2 102.4 M617.1 88.6L571.8 102.1 M636.8 87.4L655.1 87.4 M636.8 87.4L627.2 102.4 M636.8 87.4L644.5 101.8 M636.8 87.4L665.0 102.3 M636.8 87.4L590.4 101.2 M655.1 87.4L665.0 102.3 M655.1 87.4L607.8 102.8 M672.1 87.7L665.0 102.3 M672.1 87.7L627.2 102.4 M497.9 102.7L517.1 103.0 M497.9 102.7L506.6 116.6 M497.9 102.7L516.6 129.5 M517.1 103.0L535.7 102.6 M517.1 103.0L525.4 115.2 M517.1 103.0L506.6 116.6 M517.1 103.0L516.6 129.5 M517.1 103.0L552.5 101.4 M535.7 102.6L542.8 117.0 M535.7 102.6L525.4 115.2 M535.7 102.6L535.1 131.0 M535.7 102.6L580.4 116.4 M535.7 102.6L571.8 102.1 M535.7 102.6L552.6 129.0 M552.5 101.4L561.3 115.4 M552.5 101.4L542.8 117.0 M552.5 101.4L600.1 116.0 M552.5 101.4L525.4 115.2 M571.8 102.1L590.4 101.2 M571.8 102.1L580.4 116.4 M590.4 101.2L607.8 102.8 M590.4 101.2L600.1 116.0 M590.4 101.2L580.4 116.4 M590.4 101.2L635.7 115.7 M590.4 101.2L561.3 115.4 M607.8 102.8L627.2 102.4 M607.8 102.8L600.1 116.0 M607.8 102.8L607.6 130.7 M607.8 102.8L655.0 116.3 M607.8 102.8L625.9 130.2 M627.2 102.4L644.5 101.8 M627.2 102.4L635.7 115.7 M627.2 102.4L617.7 116.6 M627.2 102.4L600.1 116.0 M627.2 102.4L665.0 102.3 M627.2 102.4L644.8 129.4 M644.5 101.8L665.0 102.3 M644.5 101.8L655.0 116.3 M644.5 101.8L635.7 115.7 M644.5 101.8L644.8 129.4 M644.5 101.8L617.7 116.6 M665.0 102.3L672.1 115.2 M665.0 102.3L655.0 116.3 M665.0 102.3L664.8 129.6 M506.6 116.6L516.6 129.5 M506.6 116.6L535.1 131.0 M525.4 115.2L542.8 117.0 M525.4 115.2L535.1 131.0 M525.4 115.2L561.3 115.4 M542.8 117.0L561.3 115.4 M542.8 117.0L535.1 131.0 M542.8 117.0L552.6 129.0 M542.8 117.0L525.3 144.4 M561.3 115.4L580.4 116.4 M561.3 115.4L552.6 129.0 M561.3 115.4L571.2 129.6 M561.3 115.4L516.6 129.5 M580.4 116.4L600.1 116.0 M580.4 116.4L571.2 129.6 M580.4 116.4L589.2 129.1 M580.4 116.4L607.6 130.7 M600.1 116.0L617.7 116.6 M600.1 116.0L589.2 129.1 M600.1 116.0L607.6 130.7 M600.1 116.0L599.8 144.9 M600.1 116.0L625.9 130.2 M600.1 116.0L635.7 115.7 M600.1 116.0L579.8 144.6 M617.7 116.6L635.7 115.7 M617.7 116.6L607.6 130.7 M617.7 116.6L625.9 130.2 M617.7 116.6L644.8 129.4 M617.7 116.6L635.4 144.7 M635.7 115.7L655.0 116.3 M635.7 115.7L644.8 129.4 M635.7 115.7L635.4 144.7 M635.7 115.7L664.8 129.6 M635.7 115.7L589.2 129.1 M655.0 116.3L672.1 115.2 M655.0 116.3L644.8 129.4 M655.0 116.3L664.8 129.6 M655.0 116.3L607.6 130.7 M516.6 129.5L535.1 131.0 M516.6 129.5L562.2 143.3 M535.1 131.0L552.6 129.0 M535.1 131.0L543.7 144.4 M535.1 131.0L525.3 144.4 M535.1 131.0L579.8 144.6 M552.6 129.0L571.2 129.6 M552.6 129.0L562.2 143.3 M552.6 129.0L543.7 144.4 M552.6 129.0L525.3 144.4 M571.2 129.6L589.2 129.1 M571.2 129.6L579.8 144.6 M571.2 129.6L562.2 143.3 M571.2 129.6L543.7 144.4 M589.2 129.1L607.6 130.7 M589.2 129.1L599.8 144.9 M589.2 129.1L579.8 144.6 M589.2 129.1L635.4 144.7 M607.6 130.7L625.9 130.2 M607.6 130.7L618.2 144.2 M607.6 130.7L599.8 144.9 M625.9 130.2L644.8 129.4 M625.9 130.2L635.4 144.7 M625.9 130.2L618.2 144.2 M625.9 130.2L599.8 144.9 M644.8 129.4L664.8 129.6 M644.8 129.4L635.4 144.7 M644.8 129.4L618.2 144.2 M525.3 144.4L543.7 144.4 M543.7 144.4L562.2 143.3 M543.7 144.4L579.8 144.6 M562.2 143.3L579.8 144.6 M562.2 143.3L599.8 144.9 M579.8 144.6L599.8 144.9 M599.8 144.9L618.2 144.2" stroke="#6767ab" stroke-width="2.4" stroke-linecap="round" fill="none"/>
<path d="M515.1 73.2L533.9 74.5 M515.1 73.2L507.0 88.1 M515.1 73.2L552.2 74.5 M533.9 74.5L552.2 74.5 M533.9 74.5L571.9 73.3 M552.2 74.5L600.1 88.3 M552.2 74.5L571.8 102.1 M571.9 73.3L579.6 88.5 M571.9 73.3L617.1 88.6 M590.1 73.9L579.6 88.5 M608.3 75.0L626.0 73.0 M608.3 75.0L655.1 87.4 M626.0 73.0L646.6 73.8 M626.0 73.0L617.1 88.6 M626.0 73.0L663.3 73.7 M646.6 73.8L636.8 87.4 M663.3 73.7L655.1 87.4 M507.0 88.1L526.3 88.7 M507.0 88.1L517.1 103.0 M526.3 88.7L543.4 87.4 M526.3 88.7L525.4 115.2 M526.3 88.7L563.1 89.0 M543.4 87.4L535.7 102.6 M543.4 87.4L542.8 117.0 M543.4 87.4L579.6 88.5 M563.1 89.0L579.6 88.5 M563.1 89.0L571.8 102.1 M563.1 89.0L590.4 101.2 M563.1 89.0L600.1 88.3 M579.6 88.5L607.8 102.8 M600.1 88.3L590.4 101.2 M600.1 88.3L627.2 102.4 M600.1 88.3L636.8 87.4 M617.1 88.6L627.2 102.4 M636.8 87.4L655.1 87.4 M636.8 87.4L644.5 101.8 M636.8 87.4L590.4 101.2 M655.1 87.4L607.8 102.8 M672.1 87.7L627.2 102.4 M497.9 102.7L506.6 116.6 M517.1 103.0L535.7 102.6 M517.1 103.0L506.6 116.6 M517.1 103.0L552.5 101.4 M535.7 102.6L525.4 115.2 M535.7 102.6L580.4 116.4 M535.7 102.6L552.6 129.0 M552.5 101.4L542.8 117.0 M552.5 101.4L525.4 115.2 M571.8 102.1L580.4 116.4 M590.4 101.2L600.1 116.0 M590.4 101.2L635.7 115.7 M607.8 102.8L627.2 102.4 M607.8 102.8L607.6 130.7 M607.8 102.8L625.9 130.2 M627.2 102.4L635.7 115.7 M627.2 102.4L600.1 116.0 M627.2 102.4L644.8 129.4 M644.5 101.8L655.0 116.3 M644.5 101.8L644.8 129.4 M665.0 102.3L672.1 115.2 M665.0 102.3L664.8 129.6 M506.6 116.6L535.1 131.0 M525.4 115.2L535.1 131.0 M542.8 117.0L561.3 115.4 M542.8 117.0L552.6 129.0 M561.3 115.4L580.4 116.4 M561.3 115.4L571.2 129.6 M580.4 116.4L600.1 116.0 M580.4 116.4L589.2 129.1 M600.1 116.0L617.7 116.6 M600.1 116.0L607.6 130.7 M600.1 116.0L625.9 130.2 M600.1 116.0L579.8 144.6 M617.7 116.6L607.6 130.7 M617.7 116.6L644.8 129.4 M635.7 115.7L655.0 116.3 M635.7 115.7L635.4 144.7 M635.7 115.7L589.2 129.1 M655.0 116.3L644.8 129.4 M655.0 116.3L607.6 130.7 M516.6 129.5L562.2 143.3 M535.1 131.0L543.7 144.4 M535.1 131.0L579.8 144.6 M552.6 129.0L562.2 143.3 M552.6 129.0L525.3 144.4 M571.2 129.6L579.8 144.6 M571.2 129.6L543.7 144.4 M589.2 129.1L599.8 144.9 M589.2 129.1L635.4 144.7 M607.6 130.7L618.2 144.2 M625.9 130.2L644.8 129.4 M625.9 130.2L618.2 144.2 M644.8 129.4L664.8 129.6 M644.8 129.4L618.2 144.2 M543.7 144.4L562.2 143.3 M562.2 143.3L579.8 144.6 M579.8 144.6L599.8 144.9" stroke="#a8a8e0" stroke-width="0.6" fill="none" transform="translate(-0.4,-0.6)"/>
<line x1="543.6" y1="80.8" x2="533.9" y2="74.5" stroke="#9a9a9a" stroke-width="1.8"/>
<circle cx="543.6" cy="80.8" r="3.7" fill="url(#gball)"/>
<line x1="560.9" y1="80.8" x2="552.2" y2="74.5" stroke="#9a9a9a" stroke-width="1.8"/>
<circle cx="560.9" cy="80.8" r="3.7" fill="url(#gball)"/>
<line x1="580.2" y1="79.6" x2="571.9" y2="73.3" stroke="#9a9a9a" stroke-width="1.8"/>
<circle cx="580.2" cy="79.6" r="3.7" fill="url(#gball)"/>
<line x1="615.8" y1="81.3" x2="608.3" y2="75.0" stroke="#9a9a9a" stroke-width="1.8"/>
<circle cx="615.8" cy="81.3" r="3.7" fill="url(#gball)"/>
<line x1="657.0" y1="80.1" x2="646.6" y2="73.8" stroke="#9a9a9a" stroke-width="1.8"/>
<circle cx="657.0" cy="80.1" r="3.7" fill="url(#gball)"/>
<line x1="517.3" y1="94.4" x2="507.0" y2="88.1" stroke="#9a9a9a" stroke-width="1.8"/>
<circle cx="517.3" cy="94.4" r="3.7" fill="url(#gball)"/>
<line x1="553.0" y1="93.7" x2="543.4" y2="87.4" stroke="#9a9a9a" stroke-width="1.8"/>
<circle cx="553.0" cy="93.7" r="3.7" fill="url(#gball)"/>
<line x1="625.3" y1="94.9" x2="617.1" y2="88.6" stroke="#9a9a9a" stroke-width="1.8"/>
<circle cx="625.3" cy="94.9" r="3.7" fill="url(#gball)"/>
<line x1="645.4" y1="93.7" x2="636.8" y2="87.4" stroke="#9a9a9a" stroke-width="1.8"/>
<circle cx="645.4" cy="93.7" r="3.7" fill="url(#gball)"/>
<line x1="663.2" y1="93.7" x2="655.1" y2="87.4" stroke="#9a9a9a" stroke-width="1.8"/>
<circle cx="663.2" cy="93.7" r="3.7" fill="url(#gball)"/>
<line x1="507.1" y1="109.0" x2="497.9" y2="102.7" stroke="#9a9a9a" stroke-width="1.8"/>
<circle cx="507.1" cy="109.0" r="3.7" fill="url(#gball)"/>
<line x1="526.4" y1="109.3" x2="517.1" y2="103.0" stroke="#9a9a9a" stroke-width="1.8"/>
<circle cx="526.4" cy="109.3" r="3.7" fill="url(#gball)"/>
<line x1="545.0" y1="108.9" x2="535.7" y2="102.6" stroke="#9a9a9a" stroke-width="1.8"/>
<circle cx="545.0" cy="108.9" r="3.7" fill="url(#gball)"/>
<line x1="561.1" y1="107.7" x2="552.5" y2="101.4" stroke="#9a9a9a" stroke-width="1.8"/>
<circle cx="561.1" cy="107.7" r="3.7" fill="url(#gball)"/>
<line x1="598.0" y1="107.5" x2="590.4" y2="101.2" stroke="#9a9a9a" stroke-width="1.8"/>
<circle cx="598.0" cy="107.5" r="3.7" fill="url(#gball)"/>
<line x1="655.2" y1="108.1" x2="644.5" y2="101.8" stroke="#9a9a9a" stroke-width="1.8"/>
<circle cx="655.2" cy="108.1" r="3.7" fill="url(#gball)"/>
<line x1="674.7" y1="108.6" x2="665.0" y2="102.3" stroke="#9a9a9a" stroke-width="1.8"/>
<circle cx="674.7" cy="108.6" r="3.7" fill="url(#gball)"/>
<line x1="535.5" y1="121.5" x2="525.4" y2="115.2" stroke="#9a9a9a" stroke-width="1.8"/>
<circle cx="535.5" cy="121.5" r="3.7" fill="url(#gball)"/>
<line x1="644.6" y1="122.0" x2="635.7" y2="115.7" stroke="#9a9a9a" stroke-width="1.8"/>
<circle cx="644.6" cy="122.0" r="3.7" fill="url(#gball)"/>
<line x1="526.1" y1="135.8" x2="516.6" y2="129.5" stroke="#9a9a9a" stroke-width="1.8"/>
<circle cx="526.1" cy="135.8" r="3.7" fill="url(#gball)"/>
<line x1="561.6" y1="135.3" x2="552.6" y2="129.0" stroke="#9a9a9a" stroke-width="1.8"/>
<circle cx="561.6" cy="135.3" r="3.7" fill="url(#gball)"/>
<line x1="579.7" y1="135.9" x2="571.2" y2="129.6" stroke="#9a9a9a" stroke-width="1.8"/>
<circle cx="579.7" cy="135.9" r="3.7" fill="url(#gball)"/>
<line x1="596.5" y1="135.4" x2="589.2" y2="129.1" stroke="#9a9a9a" stroke-width="1.8"/>
<circle cx="596.5" cy="135.4" r="3.7" fill="url(#gball)"/>
<line x1="654.2" y1="135.7" x2="644.8" y2="129.4" stroke="#9a9a9a" stroke-width="1.8"/>
<circle cx="654.2" cy="135.7" r="3.7" fill="url(#gball)"/>
<circle cx="544.3" cy="68.4" r="3.0" fill="url(#pball)"/>
<circle cx="561.1" cy="67.9" r="3.0" fill="url(#pball)"/>
<circle cx="581.7" cy="67.2" r="3.0" fill="url(#pball)"/>
<circle cx="637.0" cy="67.5" r="3.0" fill="url(#pball)"/>
<circle cx="654.0" cy="67.1" r="3.0" fill="url(#pball)"/>
<circle cx="672.9" cy="68.1" r="3.0" fill="url(#pball)"/>
<circle cx="515.0" cy="81.2" r="3.0" fill="url(#pball)"/>
<circle cx="588.9" cy="81.7" r="3.0" fill="url(#pball)"/>
<circle cx="608.0" cy="81.6" r="3.0" fill="url(#pball)"/>
<circle cx="645.2" cy="82.2" r="3.0" fill="url(#pball)"/>
<circle cx="507.0" cy="96.4" r="3.0" fill="url(#pball)"/>
<circle cx="525.3" cy="95.3" r="3.0" fill="url(#pball)"/>
<circle cx="561.5" cy="95.4" r="3.0" fill="url(#pball)"/>
<circle cx="599.7" cy="95.7" r="3.0" fill="url(#pball)"/>
<circle cx="534.9" cy="109.3" r="3.0" fill="url(#pball)"/>
<circle cx="506.7" cy="124.1" r="3.0" fill="url(#pball)"/>
<circle cx="526.2" cy="124.4" r="3.0" fill="url(#pball)"/>
<circle cx="554.0" cy="137.6" r="3.0" fill="url(#pball)"/>
<circle cx="589.9" cy="137.0" r="3.0" fill="url(#pball)"/>
<circle cx="608.7" cy="138.4" r="3.0" fill="url(#pball)"/>
<circle cx="627.9" cy="137.0" r="3.0" fill="url(#pball)"/>
<circle cx="645.2" cy="137.2" r="3.0" fill="url(#pball)"/>
<circle cx="663.6" cy="138.6" r="3.0" fill="url(#pball)"/>
<circle cx="515.1" cy="73.2" r="3.4" fill="url(#pball)"/>
<circle cx="533.9" cy="74.5" r="3.4" fill="url(#pball)"/>
<circle cx="571.9" cy="73.3" r="3.4" fill="url(#pball)"/>
<circle cx="590.1" cy="73.9" r="3.4" fill="url(#pball)"/>
<circle cx="608.3" cy="75.0" r="3.4" fill="url(#pball)"/>
<circle cx="663.3" cy="73.7" r="3.4" fill="url(#pball)"/>
<circle cx="507.0" cy="88.1" r="3.4" fill="url(#pball)"/>
<circle cx="617.1" cy="88.6" r="3.4" fill="url(#pball)"/>
<circle cx="655.1" cy="87.4" r="3.4" fill="url(#pball)"/>
<circle cx="672.1" cy="87.7" r="3.4" fill="url(#pball)"/>
<circle cx="535.7" cy="102.6" r="3.4" fill="url(#pball)"/>
<circle cx="552.5" cy="101.4" r="3.4" fill="url(#pball)"/>
<circle cx="590.4" cy="101.2" r="3.4" fill="url(#pball)"/>
<circle cx="607.8" cy="102.8" r="3.4" fill="url(#pball)"/>
<circle cx="627.2" cy="102.4" r="3.4" fill="url(#pball)"/>
<circle cx="644.5" cy="101.8" r="3.4" fill="url(#pball)"/>
<circle cx="525.4" cy="115.2" r="3.4" fill="url(#pball)"/>
<circle cx="580.4" cy="116.4" r="3.4" fill="url(#pball)"/>
<circle cx="600.1" cy="116.0" r="3.4" fill="url(#pball)"/>
<circle cx="635.7" cy="115.7" r="3.4" fill="url(#pball)"/>
<circle cx="672.1" cy="115.2" r="3.4" fill="url(#pball)"/>
<circle cx="552.6" cy="129.0" r="3.4" fill="url(#pball)"/>
<circle cx="571.2" cy="129.6" r="3.4" fill="url(#pball)"/>
<circle cx="589.2" cy="129.1" r="3.4" fill="url(#pball)"/>
<circle cx="644.8" cy="129.4" r="3.4" fill="url(#pball)"/>
<circle cx="525.3" cy="144.4" r="3.4" fill="url(#pball)"/>
<circle cx="543.7" cy="144.4" r="3.4" fill="url(#pball)"/>
<circle cx="579.8" cy="144.6" r="3.4" fill="url(#pball)"/>
<circle cx="618.2" cy="144.2" r="3.4" fill="url(#pball)"/>
<path d="M493.0 90.0L499.7 92.8 M493.0 90.0L489.5 98.0 M493.0 90.0L483.2 90.2 M493.0 90.0L500.1 94.2 M493.0 90.0L497.9 84.1 M493.0 90.0L502.9 87.1 M493.0 90.0L488.5 93.8 M493.0 90.0L493.2 84.3 M496.0 120.0L504.9 120.4 M496.0 120.0L501.1 113.8 M496.0 120.0L502.5 118.4 M496.0 120.0L501.7 122.5 M496.0 120.0L502.4 119.3 M496.0 120.0L499.3 124.1 M664.0 60.0L670.4 61.7 M664.0 60.0L659.6 64.7 M664.0 60.0L660.1 68.0 M664.0 60.0L669.0 67.1 M664.0 60.0L663.3 52.7 M664.0 60.0L655.1 56.3 M664.0 60.0L657.5 56.8 M664.0 60.0L660.3 65.4 M677.0 100.0L668.9 104.7 M677.0 100.0L671.4 102.2 M677.0 100.0L667.8 101.1 M677.0 100.0L668.7 102.4 M677.0 100.0L682.3 102.7 M677.0 100.0L673.7 95.8 M677.0 100.0L674.6 105.7 M672.0 135.0L673.9 139.1 M672.0 135.0L680.8 135.3 M672.0 135.0L668.7 128.5 M672.0 135.0L663.2 135.4 M672.0 135.0L677.0 130.4 M672.0 135.0L664.9 134.1" stroke="#7c7cc0" stroke-width="1.9" stroke-linecap="round" fill="none"/>
<circle cx="493.0" cy="90.0" r="3.1" fill="url(#pball)"/>
<circle cx="496.0" cy="120.0" r="3.1" fill="url(#pball)"/>
<circle cx="664.0" cy="60.0" r="3.1" fill="url(#pball)"/>
<circle cx="677.0" cy="100.0" r="3.1" fill="url(#pball)"/>
<circle cx="672.0" cy="135.0" r="3.1" fill="url(#pball)"/>
<line x1="587.3" y1="76.6" x2="580.0" y2="96.0" stroke="#48b4b4" stroke-width="2.0"/>
<line x1="587.3" y1="76.6" x2="594.0" y2="98.0" stroke="#48b4b4" stroke-width="2.0"/>
<line x1="587.3" y1="76.6" x2="604.0" y2="90.0" stroke="#48b4b4" stroke-width="2.0"/>
<line x1="559.7" y1="58.2" x2="556.0" y2="78.0" stroke="#48b4b4" stroke-width="2.0"/>
<line x1="595.5" y1="59.3" x2="608.0" y2="74.0" stroke="#48b4b4" stroke-width="2.0"/>
<line x1="623.1" y1="64.4" x2="618.0" y2="80.0" stroke="#48b4b4" stroke-width="2.0"/>
<line x1="559.7" y1="58.2" x2="587.3" y2="76.6" stroke="#48b4b4" stroke-width="2.0"/>
<line x1="595.5" y1="59.3" x2="587.3" y2="76.6" stroke="#48b4b4" stroke-width="2.0"/>
<line x1="623.1" y1="64.4" x2="587.3" y2="76.6" stroke="#48b4b4" stroke-width="2.0"/>
<line x1="610.8" y1="5.1" x2="610.3" y2="12.8" stroke="#e01010" stroke-width="2.2"/>
<line x1="610.3" y1="12.8" x2="609.8" y2="20.4" stroke="#48b4b4" stroke-width="2.2"/>
<line x1="575.0" y1="11.6" x2="585.2" y2="13.9" stroke="#e01010" stroke-width="2.2"/>
<line x1="585.2" y1="13.9" x2="595.5" y2="16.3" stroke="#48b4b4" stroke-width="2.2"/>
<line x1="575.0" y1="11.6" x2="575.5" y2="19.1" stroke="#e01010" stroke-width="2.2"/>
<line x1="575.5" y1="19.1" x2="576.1" y2="26.6" stroke="#48b4b4" stroke-width="2.2"/>
<line x1="595.5" y1="16.3" x2="602.6" y2="18.4" stroke="#48b4b4" stroke-width="2.2"/>
<line x1="602.6" y1="18.4" x2="609.8" y2="20.4" stroke="#48b4b4" stroke-width="2.2"/>
<line x1="595.5" y1="16.3" x2="585.8" y2="21.5" stroke="#48b4b4" stroke-width="2.2"/>
<line x1="585.8" y1="21.5" x2="576.1" y2="26.6" stroke="#48b4b4" stroke-width="2.2"/>
<line x1="609.8" y1="20.4" x2="608.8" y2="26.0" stroke="#48b4b4" stroke-width="2.2"/>
<line x1="608.8" y1="26.0" x2="607.8" y2="31.7" stroke="#e01010" stroke-width="2.2"/>
<line x1="576.1" y1="26.6" x2="568.5" y2="27.1" stroke="#48b4b4" stroke-width="2.2"/>
<line x1="568.5" y1="27.1" x2="560.8" y2="27.6" stroke="#48b4b4" stroke-width="2.2"/>
<line x1="576.1" y1="26.6" x2="580.7" y2="33.8" stroke="#48b4b4" stroke-width="2.2"/>
<line x1="580.7" y1="33.8" x2="585.3" y2="40.9" stroke="#48b4b4" stroke-width="2.2"/>
<line x1="560.8" y1="27.6" x2="556.2" y2="32.0" stroke="#48b4b4" stroke-width="2.2"/>
<line x1="556.2" y1="32.0" x2="551.6" y2="36.4" stroke="#e01010" stroke-width="2.2"/>
<line x1="560.8" y1="27.6" x2="551.1" y2="33.8" stroke="#48b4b4" stroke-width="2.2"/>
<line x1="551.1" y1="33.8" x2="541.4" y2="39.9" stroke="#e01010" stroke-width="2.2"/>
<line x1="560.8" y1="27.6" x2="560.2" y2="42.9" stroke="#48b4b4" stroke-width="2.2"/>
<line x1="560.2" y1="42.9" x2="559.7" y2="58.2" stroke="#48b4b4" stroke-width="2.2"/>
<line x1="551.6" y1="36.4" x2="547.5" y2="45.3" stroke="#e01010" stroke-width="2.2"/>
<line x1="547.5" y1="45.3" x2="543.4" y2="54.2" stroke="#48b4b4" stroke-width="2.2"/>
<line x1="541.4" y1="39.9" x2="542.4" y2="47.0" stroke="#e01010" stroke-width="2.2"/>
<line x1="542.4" y1="47.0" x2="543.4" y2="54.2" stroke="#48b4b4" stroke-width="2.2"/>
<line x1="576.1" y1="26.6" x2="575.5" y2="34.2" stroke="#48b4b4" stroke-width="2.2"/>
<line x1="575.5" y1="34.2" x2="575.0" y2="41.9" stroke="#e01010" stroke-width="2.2"/>
<line x1="575.0" y1="41.9" x2="580.1" y2="41.4" stroke="#e01010" stroke-width="2.2"/>
<line x1="580.1" y1="41.4" x2="585.3" y2="40.9" stroke="#48b4b4" stroke-width="2.2"/>
<line x1="585.3" y1="40.9" x2="591.5" y2="44.0" stroke="#48b4b4" stroke-width="2.2"/>
<line x1="591.5" y1="44.0" x2="597.6" y2="47.0" stroke="#48b4b4" stroke-width="2.2"/>
<line x1="585.3" y1="40.9" x2="596.5" y2="36.3" stroke="#48b4b4" stroke-width="2.2"/>
<line x1="596.5" y1="36.3" x2="607.8" y2="31.7" stroke="#e01010" stroke-width="2.2"/>
<line x1="607.8" y1="31.7" x2="610.3" y2="37.3" stroke="#e01010" stroke-width="2.2"/>
<line x1="610.3" y1="37.3" x2="612.9" y2="42.9" stroke="#e01010" stroke-width="2.2"/>
<line x1="612.9" y1="42.9" x2="605.2" y2="45.0" stroke="#e01010" stroke-width="2.2"/>
<line x1="605.2" y1="45.0" x2="597.6" y2="47.0" stroke="#48b4b4" stroke-width="2.2"/>
<line x1="612.9" y1="42.9" x2="616.5" y2="48.0" stroke="#e01010" stroke-width="2.2"/>
<line x1="616.5" y1="48.0" x2="620.0" y2="53.1" stroke="#48b4b4" stroke-width="2.2"/>
<line x1="597.6" y1="47.0" x2="608.8" y2="50.0" stroke="#48b4b4" stroke-width="2.2"/>
<line x1="608.8" y1="50.0" x2="620.0" y2="53.1" stroke="#48b4b4" stroke-width="2.2"/>
<line x1="597.6" y1="47.0" x2="596.5" y2="53.1" stroke="#48b4b4" stroke-width="2.2"/>
<line x1="596.5" y1="53.1" x2="595.5" y2="59.3" stroke="#48b4b4" stroke-width="2.2"/>
<line x1="575.0" y1="41.9" x2="578.1" y2="45.5" stroke="#e01010" stroke-width="2.2"/>
<line x1="578.1" y1="45.5" x2="581.2" y2="49.0" stroke="#e01010" stroke-width="2.2"/>
<line x1="581.2" y1="49.0" x2="570.5" y2="53.6" stroke="#e01010" stroke-width="2.2"/>
<line x1="570.5" y1="53.6" x2="559.7" y2="58.2" stroke="#48b4b4" stroke-width="2.2"/>
<line x1="559.7" y1="58.2" x2="577.6" y2="58.8" stroke="#48b4b4" stroke-width="2.2"/>
<line x1="577.6" y1="58.8" x2="595.5" y2="59.3" stroke="#48b4b4" stroke-width="2.2"/>
<line x1="595.5" y1="59.3" x2="607.8" y2="56.2" stroke="#48b4b4" stroke-width="2.2"/>
<line x1="607.8" y1="56.2" x2="620.0" y2="53.1" stroke="#48b4b4" stroke-width="2.2"/>
<line x1="620.0" y1="53.1" x2="621.5" y2="58.8" stroke="#48b4b4" stroke-width="2.2"/>
<line x1="621.5" y1="58.8" x2="623.1" y2="64.4" stroke="#48b4b4" stroke-width="2.2"/>
<line x1="623.1" y1="64.4" x2="632.8" y2="65.1" stroke="#48b4b4" stroke-width="2.2"/>
<line x1="632.8" y1="65.1" x2="642.5" y2="65.8" stroke="#e01010" stroke-width="2.2"/>
<line x1="543.4" y1="54.2" x2="551.5" y2="56.2" stroke="#48b4b4" stroke-width="2.2"/>
<line x1="551.5" y1="56.2" x2="559.7" y2="58.2" stroke="#48b4b4" stroke-width="2.2"/>
<line x1="543.4" y1="54.2" x2="540.8" y2="61.9" stroke="#48b4b4" stroke-width="2.2"/>
<line x1="540.8" y1="61.9" x2="538.3" y2="69.5" stroke="#e01010" stroke-width="2.2"/>
<line x1="538.3" y1="69.5" x2="542.7" y2="72.0" stroke="#e01010" stroke-width="2.2"/>
<line x1="542.7" y1="72.0" x2="547.1" y2="74.6" stroke="#e01010" stroke-width="2.2"/>
<line x1="559.7" y1="58.2" x2="553.4" y2="66.4" stroke="#48b4b4" stroke-width="2.2"/>
<line x1="553.4" y1="66.4" x2="547.1" y2="74.6" stroke="#e01010" stroke-width="2.2"/>
<line x1="559.7" y1="58.2" x2="573.5" y2="67.4" stroke="#48b4b4" stroke-width="2.2"/>
<line x1="573.5" y1="67.4" x2="587.3" y2="76.6" stroke="#48b4b4" stroke-width="2.2"/>
<line x1="595.5" y1="59.3" x2="591.4" y2="67.9" stroke="#48b4b4" stroke-width="2.2"/>
<line x1="591.4" y1="67.9" x2="587.3" y2="76.6" stroke="#48b4b4" stroke-width="2.2"/>
<line x1="623.1" y1="64.4" x2="605.2" y2="70.5" stroke="#48b4b4" stroke-width="2.2"/>
<line x1="605.2" y1="70.5" x2="587.3" y2="76.6" stroke="#48b4b4" stroke-width="2.2"/>
<line x1="560.8" y1="27.6" x2="567.9" y2="34.8" stroke="#48b4b4" stroke-width="2.2"/>
<line x1="567.9" y1="34.8" x2="575.0" y2="41.9" stroke="#e01010" stroke-width="2.2"/>
<line x1="609.8" y1="20.4" x2="597.5" y2="30.6" stroke="#48b4b4" stroke-width="2.2"/>
<line x1="597.5" y1="30.6" x2="585.3" y2="40.9" stroke="#48b4b4" stroke-width="2.2"/>
<line x1="595.5" y1="16.3" x2="590.4" y2="28.6" stroke="#48b4b4" stroke-width="2.2"/>
<line x1="590.4" y1="28.6" x2="585.3" y2="40.9" stroke="#48b4b4" stroke-width="2.2"/>
<line x1="597.6" y1="47.0" x2="578.7" y2="52.6" stroke="#48b4b4" stroke-width="2.2"/>
<line x1="578.7" y1="52.6" x2="559.7" y2="58.2" stroke="#48b4b4" stroke-width="2.2"/>
<line x1="642.5" y1="65.8" x2="647.1" y2="62.5" stroke="#e01010" stroke-width="2.2"/>
<line x1="647.1" y1="62.5" x2="651.7" y2="59.3" stroke="#7a7abc" stroke-width="2.2"/>
<line x1="609.8" y1="20.4" x2="611.3" y2="31.6" stroke="#48b4b4" stroke-width="2.2"/>
<line x1="611.3" y1="31.6" x2="612.9" y2="42.9" stroke="#e01010" stroke-width="2.2"/>
<line x1="576.1" y1="26.6" x2="567.9" y2="42.4" stroke="#48b4b4" stroke-width="2.2"/>
<line x1="567.9" y1="42.4" x2="559.7" y2="58.2" stroke="#48b4b4" stroke-width="2.2"/>
<line x1="620.0" y1="53.1" x2="603.6" y2="64.8" stroke="#48b4b4" stroke-width="2.2"/>
<line x1="603.6" y1="64.8" x2="587.3" y2="76.6" stroke="#48b4b4" stroke-width="2.2"/>
<line x1="595.5" y1="59.3" x2="609.3" y2="61.9" stroke="#48b4b4" stroke-width="2.2"/>
<line x1="609.3" y1="61.9" x2="623.1" y2="64.4" stroke="#48b4b4" stroke-width="2.2"/>
<line x1="585.3" y1="40.9" x2="572.5" y2="49.5" stroke="#48b4b4" stroke-width="2.2"/>
<line x1="572.5" y1="49.5" x2="559.7" y2="58.2" stroke="#48b4b4" stroke-width="2.2"/>
<line x1="543.4" y1="54.2" x2="545.2" y2="64.4" stroke="#48b4b4" stroke-width="2.2"/>
<line x1="545.2" y1="64.4" x2="547.1" y2="74.6" stroke="#e01010" stroke-width="2.2"/>
<line x1="610.8" y1="5.1" x2="603.1" y2="10.7" stroke="#e01010" stroke-width="2.2"/>
<line x1="603.1" y1="10.7" x2="595.5" y2="16.3" stroke="#48b4b4" stroke-width="2.2"/>
<line x1="560.8" y1="27.6" x2="573.0" y2="34.2" stroke="#48b4b4" stroke-width="2.2"/>
<line x1="573.0" y1="34.2" x2="585.3" y2="40.9" stroke="#48b4b4" stroke-width="2.2"/>
<line x1="575.0" y1="41.9" x2="586.3" y2="44.5" stroke="#e01010" stroke-width="2.2"/>
<line x1="586.3" y1="44.5" x2="597.6" y2="47.0" stroke="#48b4b4" stroke-width="2.2"/>
<line x1="576.1" y1="26.6" x2="578.7" y2="37.8" stroke="#48b4b4" stroke-width="2.2"/>
<line x1="578.7" y1="37.8" x2="581.2" y2="49.0" stroke="#e01010" stroke-width="2.2"/>
<line x1="595.5" y1="16.3" x2="596.5" y2="31.6" stroke="#48b4b4" stroke-width="2.2"/>
<line x1="596.5" y1="31.6" x2="597.6" y2="47.0" stroke="#48b4b4" stroke-width="2.2"/>
<line x1="607.8" y1="31.7" x2="613.9" y2="42.4" stroke="#e01010" stroke-width="2.2"/>
<line x1="613.9" y1="42.4" x2="620.0" y2="53.1" stroke="#48b4b4" stroke-width="2.2"/>
<line x1="581.2" y1="49.0" x2="588.4" y2="54.1" stroke="#e01010" stroke-width="2.2"/>
<line x1="588.4" y1="54.1" x2="595.5" y2="59.3" stroke="#48b4b4" stroke-width="2.2"/>
<line x1="585.3" y1="40.9" x2="602.6" y2="47.0" stroke="#48b4b4" stroke-width="2.2"/>
<line x1="602.6" y1="47.0" x2="620.0" y2="53.1" stroke="#48b4b4" stroke-width="2.2"/>
<line x1="559.7" y1="58.2" x2="578.7" y2="52.6" stroke="#48b4b4" stroke-width="2.2"/>
<line x1="578.7" y1="52.6" x2="597.6" y2="47.0" stroke="#48b4b4" stroke-width="2.2"/>
<line x1="560.8" y1="27.6" x2="552.1" y2="40.9" stroke="#48b4b4" stroke-width="2.2"/>
<line x1="552.1" y1="40.9" x2="543.4" y2="54.2" stroke="#48b4b4" stroke-width="2.2"/>
<circle cx="610.8" cy="5.1" r="4.5" fill="url(#rball)"/>
<circle cx="575.0" cy="11.6" r="4.5" fill="url(#rball)"/>
<circle cx="595.5" cy="16.3" r="4.1" fill="url(#tball)"/>
<circle cx="609.8" cy="20.4" r="4.1" fill="url(#tball)"/>
<circle cx="576.1" cy="26.6" r="4.1" fill="url(#tball)"/>
<circle cx="560.8" cy="27.6" r="4.1" fill="url(#tball)"/>
<circle cx="551.6" cy="36.4" r="4.5" fill="url(#rball)"/>
<circle cx="541.4" cy="39.9" r="4.5" fill="url(#rball)"/>
<circle cx="607.8" cy="31.7" r="4.5" fill="url(#rball)"/>
<circle cx="575.0" cy="41.9" r="4.5" fill="url(#rball)"/>
<circle cx="581.2" cy="49.0" r="4.5" fill="url(#rball)"/>
<circle cx="585.3" cy="40.9" r="4.1" fill="url(#tball)"/>
<circle cx="612.9" cy="42.9" r="4.5" fill="url(#rball)"/>
<circle cx="597.6" cy="47.0" r="4.1" fill="url(#tball)"/>
<circle cx="620.0" cy="53.1" r="4.1" fill="url(#tball)"/>
<circle cx="543.4" cy="54.2" r="4.1" fill="url(#tball)"/>
<circle cx="559.7" cy="58.2" r="4.1" fill="url(#tball)"/>
<circle cx="595.5" cy="59.3" r="4.1" fill="url(#tball)"/>
<circle cx="623.1" cy="64.4" r="4.1" fill="url(#tball)"/>
<circle cx="642.5" cy="65.8" r="4.5" fill="url(#rball)"/>
<circle cx="538.3" cy="69.5" r="4.5" fill="url(#rball)"/>
<circle cx="547.1" cy="74.6" r="4.5" fill="url(#rball)"/>
<circle cx="587.3" cy="76.6" r="4.1" fill="url(#tball)"/>
<circle cx="651.7" cy="59.3" r="4.0" fill="url(#pball)"/>
<circle cx="655.8" cy="62.5" r="4.0" fill="url(#pball)"/>
<text x="1.5" y="52" font-size="27.5" fill="#111">a</text>
<text x="245" y="52" font-size="27.5" fill="#111">b</text>
<text x="471" y="52" font-size="27.5" fill="#111">c</text>
<text x="61.9" y="181.0" font-size="17" fill="#222" textLength="155.1" lengthAdjust="spacingAndGlyphs">NiFe<tspan font-size="11.5" dy="3.8">2</tspan><tspan dy="-3.8">O</tspan><tspan font-size="11.5" dy="3.8">4</tspan><tspan dy="-3.8">/Fe</tspan><tspan font-size="11.5" dy="3.8">5</tspan><tspan dy="-3.8">C</tspan><tspan font-size="11.5" dy="3.8">2</tspan><tspan dy="-3.8">(021)</tspan></text>
<text x="316.1" y="181.0" font-size="17" fill="#222" textLength="87.3" lengthAdjust="spacingAndGlyphs">Fe<tspan font-size="11.5" dy="3.8">5</tspan><tspan dy="-3.8">C</tspan><tspan font-size="11.5" dy="3.8">2</tspan><tspan dy="-3.8">(021)</tspan></text>
<text x="548.0" y="181.0" font-size="17" fill="#222" textLength="122.5" lengthAdjust="spacingAndGlyphs">NiO/Fe<tspan font-size="11.5" dy="3.8">5</tspan><tspan dy="-3.8">C</tspan><tspan font-size="11.5" dy="3.8">2</tspan><tspan dy="-3.8">(021)</tspan></text>
<rect x="139.5" y="245.0" width="58.3" height="81.4" fill="#e6e6e6"/>
<text x="166.9" y="237.0" font-size="12.1" fill="#6e6e6e" text-anchor="middle">TS1</text>
<rect x="409.2" y="218.0" width="59.1" height="113.7" fill="#e6e6e6"/>
<text x="437.2" y="209.9" font-size="12.1" fill="#6e6e6e" text-anchor="middle">TS2</text>
<rect x="527.3" y="262.0" width="57.8" height="42.8" fill="#e6e6e6"/>
<text x="553.7" y="253.3" font-size="12.1" fill="#6e6e6e" text-anchor="middle">TS3</text>
<rect x="41.30" y="194.70" width="639.00" height="204.40" fill="none" stroke="#202020" stroke-width="1.35"/>
<line x1="39.10" y1="398.90" x2="41.30" y2="398.90" stroke="#202020" stroke-width="1.2"/>
<line x1="37.70" y1="385.30" x2="41.30" y2="385.30" stroke="#202020" stroke-width="1.2"/>
<text x="35.6" y="389.90" font-size="14.6" fill="#222" text-anchor="end">-3</text>
<line x1="39.10" y1="371.70" x2="41.30" y2="371.70" stroke="#202020" stroke-width="1.2"/>
<line x1="37.70" y1="358.10" x2="41.30" y2="358.10" stroke="#202020" stroke-width="1.2"/>
<text x="35.6" y="361.80" font-size="14.6" fill="#222" text-anchor="end">-2</text>
<line x1="39.10" y1="344.50" x2="41.30" y2="344.50" stroke="#202020" stroke-width="1.2"/>
<line x1="37.70" y1="330.90" x2="41.30" y2="330.90" stroke="#202020" stroke-width="1.2"/>
<text x="35.6" y="336.10" font-size="14.6" fill="#222" text-anchor="end">-1</text>
<line x1="39.10" y1="317.30" x2="41.30" y2="317.30" stroke="#202020" stroke-width="1.2"/>
<line x1="37.70" y1="303.70" x2="41.30" y2="303.70" stroke="#202020" stroke-width="1.2"/>
<text x="35.6" y="307.80" font-size="14.6" fill="#222" text-anchor="end">0</text>
<line x1="39.10" y1="290.10" x2="41.30" y2="290.10" stroke="#202020" stroke-width="1.2"/>
<line x1="37.70" y1="276.50" x2="41.30" y2="276.50" stroke="#202020" stroke-width="1.2"/>
<text x="35.6" y="282.20" font-size="14.6" fill="#222" text-anchor="end">1</text>
<line x1="39.10" y1="262.90" x2="41.30" y2="262.90" stroke="#202020" stroke-width="1.2"/>
<line x1="37.70" y1="249.30" x2="41.30" y2="249.30" stroke="#202020" stroke-width="1.2"/>
<text x="35.6" y="252.80" font-size="14.6" fill="#222" text-anchor="end">2</text>
<line x1="39.10" y1="235.70" x2="41.30" y2="235.70" stroke="#202020" stroke-width="1.2"/>
<line x1="37.70" y1="222.10" x2="41.30" y2="222.10" stroke="#202020" stroke-width="1.2"/>
<text x="35.6" y="226.30" font-size="14.6" fill="#222" text-anchor="end">3</text>
<line x1="39.10" y1="208.50" x2="41.30" y2="208.50" stroke="#202020" stroke-width="1.2"/>
<line x1="37.70" y1="194.90" x2="41.30" y2="194.90" stroke="#202020" stroke-width="1.2"/>
<text x="35.6" y="200.90" font-size="14.6" fill="#222" text-anchor="end">4</text>
<text x="1.5" y="206.6" font-size="27.5" fill="#111">d</text>
<text transform="translate(13.0,294.6) rotate(-90)" font-size="17.7" fill="#222" text-anchor="middle">Free energy (eV)</text>
<text x="361.3" y="423.0" font-size="17.7" fill="#222" text-anchor="middle">Reaction coordinate</text>
<line x1="49.9" y1="208.0" x2="72.2" y2="208.0" stroke="#f77474" stroke-width="2.1"/>
<text x="79.4" y="211.1" font-size="8.8" fill="#333" textLength="78.1" lengthAdjust="spacingAndGlyphs">NiFe<tspan font-size="6.2" dy="1.8">2</tspan><tspan dy="-1.8">O</tspan><tspan font-size="6.2" dy="1.8">4</tspan><tspan dy="-1.8">/Fe</tspan><tspan font-size="6.2" dy="1.8">5</tspan><tspan dy="-1.8">C</tspan><tspan font-size="6.2" dy="1.8">2</tspan><tspan dy="-1.8">(021)</tspan></text>
<line x1="41.30" y1="303.70" x2="61.30" y2="303.70" stroke="#f77474" stroke-width="2.1"/>
<line x1="80.03" y1="292.28" x2="100.03" y2="292.28" stroke="#f77474" stroke-width="2.1"/>
<line x1="118.76" y1="294.72" x2="138.76" y2="294.72" stroke="#f77474" stroke-width="2.1"/>
<line x1="196.22" y1="317.84" x2="216.22" y2="317.84" stroke="#f77474" stroke-width="2.1"/>
<line x1="234.95" y1="331.44" x2="254.95" y2="331.44" stroke="#f77474" stroke-width="2.1"/>
<line x1="273.68" y1="327.36" x2="293.68" y2="327.36" stroke="#f77474" stroke-width="2.1"/>
<line x1="312.41" y1="303.16" x2="332.41" y2="303.16" stroke="#f77474" stroke-width="2.1"/>
<line x1="351.14" y1="302.34" x2="371.14" y2="302.34" stroke="#f77474" stroke-width="2.1"/>
<line x1="389.87" y1="256.10" x2="409.87" y2="256.10" stroke="#f77474" stroke-width="2.1"/>
<line x1="467.33" y1="317.84" x2="487.33" y2="317.84" stroke="#f77474" stroke-width="2.1"/>
<line x1="506.06" y1="292.00" x2="526.06" y2="292.00" stroke="#f77474" stroke-width="2.1"/>
<line x1="583.52" y1="307.60" x2="603.52" y2="307.60" stroke="#f77474" stroke-width="2.1"/>
<line x1="622.25" y1="326.28" x2="642.25" y2="326.28" stroke="#f77474" stroke-width="2.1"/>
<line x1="660.98" y1="338.52" x2="680.30" y2="338.52" stroke="#f77474" stroke-width="2.1"/>
<line x1="61.30" y1="303.70" x2="80.03" y2="292.28" stroke="#f77474" stroke-width="1.1" stroke-dasharray="4.5 4.2"/>
<line x1="100.03" y1="292.28" x2="118.76" y2="294.72" stroke="#f77474" stroke-width="1.1" stroke-dasharray="4.5 4.2"/>
<path d="M138.76,294.72 L139.44,293.69 L140.12,292.67 L140.80,291.64 L141.47,290.62 L142.15,289.60 L142.83,288.59 L143.51,287.59 L144.19,286.59 L144.87,285.61 L145.54,284.64 L146.22,283.68 L146.90,282.73 L147.58,281.80 L148.26,280.89 L148.94,280.00 L149.62,279.12 L150.29,278.27 L150.97,277.43 L151.65,276.62 L152.33,275.84 L153.01,275.08 L153.69,274.34 L154.37,273.64 L155.04,272.97 L155.72,272.32 L156.40,271.71 L157.08,271.13 L157.76,270.59 L158.44,270.08 L159.12,269.61 L159.79,269.18 L160.47,268.79 L161.15,268.44 L161.83,268.13 L162.51,267.87 L163.19,267.65 L163.86,267.48 L164.54,267.35 L165.22,267.28 L165.90,267.25 L165.90,267.25 L166.66,267.30 L167.42,267.44 L168.17,267.67 L168.93,267.99 L169.69,268.39 L170.45,268.87 L171.21,269.44 L171.96,270.09 L172.72,270.81 L173.48,271.60 L174.24,272.46 L175.00,273.40 L175.75,274.40 L176.51,275.46 L177.27,276.59 L178.03,277.78 L178.79,279.02 L179.54,280.31 L180.30,281.66 L181.06,283.06 L181.82,284.51 L182.58,286.00 L183.33,287.53 L184.09,289.11 L184.85,290.72 L185.61,292.37 L186.37,294.05 L187.12,295.76 L187.88,297.50 L188.64,299.27 L189.40,301.06 L190.16,302.87 L190.91,304.70 L191.67,306.55 L192.43,308.41 L193.19,310.28 L193.95,312.16 L194.70,314.05 L195.46,315.95 L196.22,317.84" fill="none" stroke="#f77474" stroke-width="1.5" stroke-linejoin="round"/>
<line x1="216.22" y1="317.84" x2="234.95" y2="331.44" stroke="#f77474" stroke-width="1.1" stroke-dasharray="4.5 4.2"/>
<line x1="254.95" y1="331.44" x2="273.68" y2="327.36" stroke="#f77474" stroke-width="1.1" stroke-dasharray="4.5 4.2"/>
<line x1="293.68" y1="327.36" x2="312.41" y2="303.16" stroke="#f77474" stroke-width="1.1" stroke-dasharray="4.5 4.2"/>
<line x1="332.41" y1="303.16" x2="351.14" y2="302.34" stroke="#f77474" stroke-width="1.1" stroke-dasharray="4.5 4.2"/>
<line x1="371.14" y1="302.34" x2="389.87" y2="256.10" stroke="#f77474" stroke-width="1.1" stroke-dasharray="4.5 4.2"/>
<path d="M409.87,256.10 L410.56,255.28 L411.26,254.47 L411.95,253.66 L412.64,252.85 L413.34,252.04 L414.03,251.24 L414.72,250.45 L415.42,249.66 L416.11,248.88 L416.80,248.11 L417.50,247.35 L418.19,246.60 L418.88,245.87 L419.58,245.14 L420.27,244.43 L420.96,243.74 L421.66,243.06 L422.35,242.40 L423.04,241.76 L423.74,241.14 L424.43,240.54 L425.12,239.96 L425.81,239.40 L426.51,238.87 L427.20,238.36 L427.89,237.87 L428.59,237.41 L429.28,236.98 L429.97,236.58 L430.67,236.21 L431.36,235.87 L432.05,235.56 L432.75,235.28 L433.44,235.04 L434.13,234.83 L434.83,234.66 L435.52,234.52 L436.21,234.42 L436.91,234.36 L437.60,234.34 L437.60,234.34 L438.34,234.42 L439.09,234.65 L439.83,235.03 L440.57,235.55 L441.32,236.22 L442.06,237.02 L442.80,237.95 L443.55,239.02 L444.29,240.21 L445.03,241.52 L445.78,242.94 L446.52,244.49 L447.26,246.14 L448.01,247.89 L448.75,249.75 L449.49,251.71 L450.24,253.76 L450.98,255.90 L451.72,258.13 L452.47,260.44 L453.21,262.82 L453.95,265.28 L454.69,267.82 L455.44,270.41 L456.18,273.07 L456.92,275.79 L457.67,278.57 L458.41,281.39 L459.15,284.27 L459.90,287.18 L460.64,290.14 L461.38,293.13 L462.13,296.15 L462.87,299.20 L463.61,302.27 L464.36,305.36 L465.10,308.47 L465.84,311.59 L466.59,314.71 L467.33,317.84" fill="none" stroke="#f77474" stroke-width="1.5" stroke-linejoin="round"/>
<line x1="487.33" y1="317.84" x2="506.06" y2="292.00" stroke="#f77474" stroke-width="1.1" stroke-dasharray="4.5 4.2"/>
<path d="M526.06,292.00 L526.77,291.58 L527.47,291.15 L528.18,290.72 L528.88,290.30 L529.59,289.88 L530.30,289.46 L531.00,289.04 L531.71,288.63 L532.41,288.22 L533.12,287.82 L533.83,287.42 L534.53,287.03 L535.24,286.64 L535.94,286.26 L536.65,285.89 L537.36,285.53 L538.06,285.17 L538.77,284.83 L539.47,284.49 L540.18,284.16 L540.89,283.85 L541.59,283.54 L542.30,283.25 L543.00,282.97 L543.71,282.70 L544.42,282.45 L545.12,282.21 L545.83,281.99 L546.53,281.78 L547.24,281.58 L547.95,281.40 L548.65,281.24 L549.36,281.09 L550.06,280.97 L550.77,280.86 L551.48,280.77 L552.18,280.69 L552.89,280.64 L553.59,280.61 L554.30,280.60 L554.30,280.60 L555.03,280.63 L555.76,280.70 L556.49,280.82 L557.22,280.99 L557.95,281.21 L558.68,281.47 L559.41,281.77 L560.14,282.11 L560.87,282.50 L561.60,282.92 L562.34,283.38 L563.07,283.88 L563.80,284.41 L564.53,284.98 L565.26,285.58 L565.99,286.22 L566.72,286.88 L567.45,287.57 L568.18,288.29 L568.91,289.04 L569.64,289.81 L570.37,290.61 L571.10,291.42 L571.83,292.26 L572.56,293.12 L573.29,294.00 L574.02,294.90 L574.75,295.81 L575.48,296.74 L576.21,297.69 L576.95,298.64 L577.68,299.61 L578.41,300.58 L579.14,301.57 L579.87,302.56 L580.60,303.56 L581.33,304.57 L582.06,305.58 L582.79,306.59 L583.52,307.60" fill="none" stroke="#f77474" stroke-width="1.5" stroke-linejoin="round"/>
<line x1="603.52" y1="307.60" x2="622.25" y2="326.28" stroke="#f77474" stroke-width="1.1" stroke-dasharray="4.5 4.2"/>
<line x1="642.25" y1="326.28" x2="660.98" y2="338.52" stroke="#f77474" stroke-width="1.1" stroke-dasharray="4.5 4.2"/>
<text x="53.40" y="298.30" font-size="9.2" fill="#f67c7c" text-anchor="middle">0.00</text>
<text x="89.05" y="286.70" font-size="9.2" fill="#f67c7c" text-anchor="middle">0.42</text>
<text x="127.40" y="290.70" font-size="9.2" fill="#f67c7c" text-anchor="middle">0.33</text>
<text x="167.40" y="258.80" font-size="9.2" fill="#f67c7c" text-anchor="middle">1.34</text>
<text x="208.00" y="314.60" font-size="9.2" fill="#f67c7c" text-anchor="middle">-0.52</text>
<text x="245.80" y="327.60" font-size="9.2" fill="#f67c7c" text-anchor="middle">-1.02</text>
<text x="282.90" y="321.10" font-size="9.2" fill="#f67c7c" text-anchor="middle">-0.87</text>
<text x="323.40" y="297.90" font-size="9.2" fill="#f67c7c" text-anchor="middle">0.02</text>
<text x="361.50" y="297.90" font-size="9.2" fill="#f67c7c" text-anchor="middle">0.05</text>
<text x="399.20" y="251.60" font-size="9.2" fill="#f67c7c" text-anchor="middle">1.75</text>
<text x="436.30" y="231.70" font-size="9.2" fill="#f67c7c" text-anchor="middle">2.55</text>
<text x="478.40" y="312.30" font-size="9.2" fill="#f67c7c" text-anchor="middle">-0.52</text>
<text x="516.70" y="287.20" font-size="9.2" fill="#f67c7c" text-anchor="middle">0.43</text>
<text x="553.30" y="274.40" font-size="9.2" fill="#f67c7c" text-anchor="middle">0.88</text>
<text x="594.70" y="302.40" font-size="9.2" fill="#f67c7c" text-anchor="middle">0.16</text>
<text x="632.70" y="322.00" font-size="9.2" fill="#f67c7c" text-anchor="middle">-0.83</text>
<text x="667.40" y="334.30" font-size="9.2" fill="#f67c7c" text-anchor="middle">-1.28</text>
<text transform="translate(57.00,359.00) rotate(-90)" font-size="9.2" fill="#1a1a1a" textLength="52.10" lengthAdjust="spacingAndGlyphs"><tspan>CO</tspan><tspan dy="1.20" font-size="6.72">2</tspan><tspan dy="-1.20">(g)+H</tspan><tspan dy="1.20" font-size="6.72">2</tspan><tspan dy="-1.20">(g)</tspan></text>
<text transform="translate(92.90,317.40) rotate(-90)" font-size="9.2" fill="#1a1a1a" textLength="19.70" lengthAdjust="spacingAndGlyphs"><tspan>CO</tspan><tspan dy="1.20" font-size="6.72">2</tspan><tspan dy="-1.20">*</tspan></text>
<text transform="translate(132.70,335.10) rotate(-90)" font-size="9.2" fill="#1a1a1a" textLength="34.60" lengthAdjust="spacingAndGlyphs"><tspan>CO</tspan><tspan dy="1.20" font-size="6.72">2</tspan><tspan dy="-1.20">*+H*</tspan></text>
<text transform="translate(209.90,351.90) rotate(-90)" font-size="9.2" fill="#1a1a1a" textLength="29.20" lengthAdjust="spacingAndGlyphs"><tspan>HCOO*</tspan></text>
<text transform="translate(250.20,353.60) rotate(-90)" font-size="9.2" fill="#1a1a1a" textLength="16.70" lengthAdjust="spacingAndGlyphs"><tspan>CO*</tspan></text>
<text transform="translate(289.60,355.10) rotate(-90)" font-size="9.2" fill="#1a1a1a" textLength="22.60" lengthAdjust="spacingAndGlyphs"><tspan>CHO*</tspan></text>
<text transform="translate(328.20,324.00) rotate(-90)" font-size="9.2" fill="#1a1a1a" textLength="15.60" lengthAdjust="spacingAndGlyphs"><tspan>CH*</tspan></text>
<text transform="translate(365.20,325.50) rotate(-90)" font-size="9.2" fill="#1a1a1a" textLength="19.00" lengthAdjust="spacingAndGlyphs"><tspan>CH</tspan><tspan dy="1.20" font-size="6.72">2</tspan><tspan dy="-1.20">*</tspan></text>
<text transform="translate(401.20,311.60) rotate(-90)" font-size="9.2" fill="#1a1a1a" textLength="47.90" lengthAdjust="spacingAndGlyphs"><tspan>CH</tspan><tspan dy="1.20" font-size="6.72">2</tspan><tspan dy="-1.20">*+CHO*</tspan></text>
<text transform="translate(483.20,361.20) rotate(-90)" font-size="9.2" fill="#1a1a1a" textLength="38.20" lengthAdjust="spacingAndGlyphs"><tspan>CH</tspan><tspan dy="1.20" font-size="6.72">2</tspan><tspan dy="-1.20">CHO*</tspan></text>
<text transform="translate(521.20,352.90) rotate(-90)" font-size="9.2" fill="#1a1a1a" textLength="53.70" lengthAdjust="spacingAndGlyphs"><tspan>CH</tspan><tspan dy="1.20" font-size="6.72">2</tspan><tspan dy="-1.20">CHO*+H*</tspan></text>
<text transform="translate(598.90,352.40) rotate(-90)" font-size="9.2" fill="#1a1a1a" textLength="38.70" lengthAdjust="spacingAndGlyphs"><tspan>CH</tspan><tspan dy="1.20" font-size="6.72">3</tspan><tspan dy="-1.20">CHO*</tspan></text>
<text transform="translate(636.10,372.80) rotate(-90)" font-size="9.2" fill="#1a1a1a" textLength="41.80" lengthAdjust="spacingAndGlyphs"><tspan>CH</tspan><tspan dy="1.20" font-size="6.72">3</tspan><tspan dy="-1.20">CH</tspan><tspan dy="1.20" font-size="6.72">2</tspan><tspan dy="-1.20">O*</tspan></text>
<text transform="translate(675.50,390.10) rotate(-90)" font-size="9.2" fill="#1a1a1a" textLength="48.20" lengthAdjust="spacingAndGlyphs"><tspan>CH</tspan><tspan dy="1.20" font-size="6.72">3</tspan><tspan dy="-1.20">CH</tspan><tspan dy="1.20" font-size="6.72">2</tspan><tspan dy="-1.20">OH*</tspan></text>
<rect x="140.0" y="495.9" width="54.9" height="63.1" fill="#e6e6e6"/>
<text x="167.7" y="485.9" font-size="12.1" fill="#6e6e6e" text-anchor="middle">TS1</text>
<rect x="411.2" y="483.7" width="55.9" height="77.9" fill="#e6e6e6"/>
<text x="439.6" y="474.9" font-size="12.1" fill="#6e6e6e" text-anchor="middle">TS2</text>
<rect x="526.3" y="507.7" width="56.4" height="62.0" fill="#e6e6e6"/>
<text x="556.7" y="499.3" font-size="12.1" fill="#6e6e6e" text-anchor="middle">TS3</text>
<rect x="41.30" y="432.00" width="639.00" height="204.30" fill="none" stroke="#202020" stroke-width="1.35"/>
<line x1="39.10" y1="636.34" x2="41.30" y2="636.34" stroke="#202020" stroke-width="1.2"/>
<line x1="37.70" y1="622.72" x2="41.30" y2="622.72" stroke="#202020" stroke-width="1.2"/>
<text x="35.6" y="629.42" font-size="14.6" fill="#222" text-anchor="end">-3</text>
<line x1="39.10" y1="609.10" x2="41.30" y2="609.10" stroke="#202020" stroke-width="1.2"/>
<line x1="37.70" y1="595.48" x2="41.30" y2="595.48" stroke="#202020" stroke-width="1.2"/>
<text x="35.6" y="600.88" font-size="14.6" fill="#222" text-anchor="end">-2</text>
<line x1="39.10" y1="581.86" x2="41.30" y2="581.86" stroke="#202020" stroke-width="1.2"/>
<line x1="37.70" y1="568.24" x2="41.30" y2="568.24" stroke="#202020" stroke-width="1.2"/>
<text x="35.6" y="573.84" font-size="14.6" fill="#222" text-anchor="end">-1</text>
<line x1="39.10" y1="554.62" x2="41.30" y2="554.62" stroke="#202020" stroke-width="1.2"/>
<line x1="37.70" y1="541.00" x2="41.30" y2="541.00" stroke="#202020" stroke-width="1.2"/>
<text x="35.6" y="545.70" font-size="14.6" fill="#222" text-anchor="end">0</text>
<line x1="39.10" y1="527.38" x2="41.30" y2="527.38" stroke="#202020" stroke-width="1.2"/>
<line x1="37.70" y1="513.76" x2="41.30" y2="513.76" stroke="#202020" stroke-width="1.2"/>
<text x="35.6" y="520.26" font-size="14.6" fill="#222" text-anchor="end">1</text>
<line x1="39.10" y1="500.14" x2="41.30" y2="500.14" stroke="#202020" stroke-width="1.2"/>
<line x1="37.70" y1="486.52" x2="41.30" y2="486.52" stroke="#202020" stroke-width="1.2"/>
<text x="35.6" y="489.92" font-size="14.6" fill="#222" text-anchor="end">2</text>
<line x1="39.10" y1="472.90" x2="41.30" y2="472.90" stroke="#202020" stroke-width="1.2"/>
<line x1="37.70" y1="459.28" x2="41.30" y2="459.28" stroke="#202020" stroke-width="1.2"/>
<text x="35.6" y="463.38" font-size="14.6" fill="#222" text-anchor="end">3</text>
<line x1="39.10" y1="445.66" x2="41.30" y2="445.66" stroke="#202020" stroke-width="1.2"/>
<line x1="37.70" y1="432.04" x2="41.30" y2="432.04" stroke="#202020" stroke-width="1.2"/>
<text x="35.6" y="437.24" font-size="14.6" fill="#222" text-anchor="end">4</text>
<text x="1.5" y="444.3" font-size="27.5" fill="#111">e</text>
<text transform="translate(13.0,531.6) rotate(-90)" font-size="17.7" fill="#222" text-anchor="middle">Free energy (eV)</text>
<text x="361.3" y="664.8" font-size="17.7" fill="#222" text-anchor="middle">Reaction coordinate</text>
<line x1="49.9" y1="445.3" x2="72.2" y2="445.3" stroke="#555555" stroke-width="2.0"/>
<text x="79.3" y="448.4" font-size="8.8" fill="#333" textLength="44.4" lengthAdjust="spacingAndGlyphs">Fe<tspan font-size="6.2" dy="1.8">5</tspan><tspan dy="-1.8">C</tspan><tspan font-size="6.2" dy="1.8">2</tspan><tspan dy="-1.8">(021)</tspan></text>
<line x1="41.30" y1="541.00" x2="61.30" y2="541.00" stroke="#555555" stroke-width="2.0"/>
<line x1="80.03" y1="552.71" x2="100.03" y2="552.71" stroke="#555555" stroke-width="2.0"/>
<line x1="118.76" y1="547.27" x2="138.76" y2="547.27" stroke="#555555" stroke-width="2.0"/>
<line x1="196.22" y1="541.27" x2="216.22" y2="541.27" stroke="#555555" stroke-width="2.0"/>
<line x1="234.95" y1="558.98" x2="254.95" y2="558.98" stroke="#555555" stroke-width="2.0"/>
<line x1="273.68" y1="537.19" x2="293.68" y2="537.19" stroke="#555555" stroke-width="2.0"/>
<line x1="312.41" y1="555.44" x2="332.41" y2="555.44" stroke="#555555" stroke-width="2.0"/>
<line x1="351.14" y1="549.44" x2="371.14" y2="549.44" stroke="#555555" stroke-width="2.0"/>
<line x1="389.87" y1="526.84" x2="409.87" y2="526.84" stroke="#555555" stroke-width="2.0"/>
<line x1="467.33" y1="551.35" x2="487.33" y2="551.35" stroke="#555555" stroke-width="2.0"/>
<line x1="506.06" y1="554.62" x2="526.06" y2="554.62" stroke="#555555" stroke-width="2.0"/>
<line x1="583.52" y1="532.56" x2="603.52" y2="532.56" stroke="#555555" stroke-width="2.0"/>
<line x1="622.25" y1="553.80" x2="642.25" y2="553.80" stroke="#555555" stroke-width="2.0"/>
<line x1="660.98" y1="530.65" x2="680.30" y2="530.65" stroke="#555555" stroke-width="2.0"/>
<line x1="61.30" y1="541.00" x2="80.03" y2="552.71" stroke="#555555" stroke-width="1.1" stroke-dasharray="4.5 4.2"/>
<line x1="100.03" y1="552.71" x2="118.76" y2="547.27" stroke="#555555" stroke-width="1.1" stroke-dasharray="4.5 4.2"/>
<path d="M138.76,547.27 L139.48,545.96 L140.20,544.65 L140.92,543.35 L141.64,542.05 L142.36,540.76 L143.09,539.48 L143.81,538.21 L144.53,536.94 L145.25,535.70 L145.97,534.46 L146.69,533.25 L147.41,532.05 L148.13,530.87 L148.85,529.71 L149.57,528.57 L150.30,527.46 L151.02,526.38 L151.74,525.32 L152.46,524.29 L153.18,523.29 L153.90,522.33 L154.62,521.40 L155.34,520.51 L156.06,519.65 L156.78,518.83 L157.51,518.06 L158.23,517.32 L158.95,516.63 L159.67,515.99 L160.39,515.39 L161.11,514.85 L161.83,514.35 L162.55,513.91 L163.27,513.52 L164.00,513.18 L164.72,512.90 L165.44,512.68 L166.16,512.53 L166.88,512.43 L167.60,512.40 L167.60,512.40 L168.32,512.42 L169.03,512.50 L169.75,512.64 L170.46,512.82 L171.18,513.05 L171.89,513.32 L172.61,513.65 L173.32,514.01 L174.04,514.43 L174.75,514.88 L175.47,515.37 L176.19,515.91 L176.90,516.48 L177.62,517.08 L178.33,517.73 L179.05,518.40 L179.76,519.11 L180.48,519.85 L181.19,520.62 L181.91,521.42 L182.63,522.25 L183.34,523.10 L184.06,523.97 L184.77,524.87 L185.49,525.79 L186.20,526.73 L186.92,527.69 L187.63,528.67 L188.35,529.66 L189.06,530.67 L189.78,531.69 L190.50,532.73 L191.21,533.77 L191.93,534.82 L192.64,535.89 L193.36,536.96 L194.07,538.03 L194.79,539.11 L195.50,540.19 L196.22,541.27" fill="none" stroke="#555555" stroke-width="1.7" stroke-linejoin="round"/>
<line x1="216.22" y1="541.27" x2="234.95" y2="558.98" stroke="#555555" stroke-width="1.1" stroke-dasharray="4.5 4.2"/>
<line x1="254.95" y1="558.98" x2="273.68" y2="537.19" stroke="#555555" stroke-width="1.1" stroke-dasharray="4.5 4.2"/>
<line x1="293.68" y1="537.19" x2="312.41" y2="555.44" stroke="#555555" stroke-width="1.1" stroke-dasharray="4.5 4.2"/>
<line x1="332.41" y1="555.44" x2="351.14" y2="549.44" stroke="#555555" stroke-width="1.1" stroke-dasharray="4.5 4.2"/>
<line x1="371.14" y1="549.44" x2="389.87" y2="526.84" stroke="#555555" stroke-width="1.1" stroke-dasharray="4.5 4.2"/>
<path d="M409.87,526.84 L410.57,525.83 L411.28,524.83 L411.98,523.84 L412.68,522.84 L413.39,521.86 L414.09,520.87 L414.79,519.90 L415.50,518.93 L416.20,517.98 L416.90,517.03 L417.61,516.10 L418.31,515.18 L419.01,514.28 L419.72,513.39 L420.42,512.52 L421.12,511.67 L421.83,510.84 L422.53,510.03 L423.23,509.25 L423.94,508.48 L424.64,507.74 L425.34,507.03 L426.04,506.35 L426.75,505.69 L427.45,505.07 L428.15,504.47 L428.86,503.91 L429.56,503.38 L430.26,502.89 L430.97,502.43 L431.67,502.02 L432.37,501.63 L433.08,501.29 L433.78,501.00 L434.48,500.74 L435.19,500.53 L435.89,500.36 L436.59,500.24 L437.30,500.16 L438.00,500.14 L438.00,500.14 L438.73,500.19 L439.47,500.33 L440.20,500.56 L440.93,500.88 L441.67,501.29 L442.40,501.78 L443.13,502.36 L443.87,503.01 L444.60,503.74 L445.33,504.54 L446.07,505.42 L446.80,506.36 L447.53,507.37 L448.27,508.45 L449.00,509.59 L449.73,510.79 L450.47,512.05 L451.20,513.36 L451.93,514.73 L452.66,516.14 L453.40,517.61 L454.13,519.12 L454.86,520.67 L455.60,522.26 L456.33,523.90 L457.06,525.56 L457.80,527.26 L458.53,529.00 L459.26,530.76 L460.00,532.55 L460.73,534.36 L461.46,536.19 L462.20,538.05 L462.93,539.92 L463.66,541.80 L464.40,543.70 L465.13,545.60 L465.86,547.51 L466.60,549.43 L467.33,551.35" fill="none" stroke="#555555" stroke-width="1.7" stroke-linejoin="round"/>
<line x1="487.33" y1="551.35" x2="506.06" y2="554.62" stroke="#555555" stroke-width="1.1" stroke-dasharray="4.5 4.2"/>
<path d="M526.06,554.62 L526.86,553.53 L527.67,552.44 L528.47,551.35 L529.27,550.27 L530.08,549.19 L530.88,548.12 L531.68,547.05 L532.49,546.00 L533.29,544.96 L534.10,543.93 L534.90,542.91 L535.70,541.91 L536.51,540.92 L537.31,539.96 L538.11,539.01 L538.92,538.08 L539.72,537.17 L540.52,536.29 L541.33,535.43 L542.13,534.60 L542.93,533.79 L543.74,533.02 L544.54,532.27 L545.34,531.56 L546.15,530.87 L546.95,530.23 L547.75,529.61 L548.56,529.04 L549.36,528.50 L550.16,528.00 L550.97,527.55 L551.77,527.13 L552.58,526.76 L553.38,526.43 L554.18,526.15 L554.99,525.92 L555.79,525.74 L556.59,525.61 L557.40,525.53 L558.20,525.50 L558.20,525.50 L558.83,525.51 L559.47,525.53 L560.10,525.56 L560.73,525.60 L561.37,525.66 L562.00,525.73 L562.63,525.81 L563.26,525.90 L563.90,526.00 L564.53,526.11 L565.16,526.23 L565.80,526.36 L566.43,526.50 L567.06,526.65 L567.69,526.80 L568.33,526.97 L568.96,527.14 L569.59,527.32 L570.23,527.51 L570.86,527.70 L571.49,527.91 L572.13,528.11 L572.76,528.33 L573.39,528.55 L574.02,528.77 L574.66,529.00 L575.29,529.24 L575.92,529.48 L576.56,529.72 L577.19,529.96 L577.82,530.21 L578.46,530.47 L579.09,530.72 L579.72,530.98 L580.35,531.24 L580.99,531.50 L581.62,531.76 L582.25,532.03 L582.89,532.29 L583.52,532.56" fill="none" stroke="#555555" stroke-width="1.7" stroke-linejoin="round"/>
<line x1="603.52" y1="532.56" x2="622.25" y2="553.80" stroke="#555555" stroke-width="1.1" stroke-dasharray="4.5 4.2"/>
<line x1="642.25" y1="553.80" x2="660.98" y2="530.65" stroke="#555555" stroke-width="1.1" stroke-dasharray="4.5 4.2"/>
<text x="52.75" y="537.60" font-size="9.2" fill="#222222" text-anchor="middle">0.00</text>
<text x="89.65" y="549.60" font-size="9.2" fill="#222222" text-anchor="middle">-0.43</text>
<text x="128.60" y="543.80" font-size="9.2" fill="#222222" text-anchor="middle">-0.23</text>
<text x="169.20" y="509.80" font-size="9.2" fill="#222222" text-anchor="middle">1.05</text>
<text x="207.80" y="539.10" font-size="9.2" fill="#222222" text-anchor="middle">-0.01</text>
<text x="245.50" y="556.60" font-size="9.2" fill="#222222" text-anchor="middle">-0.66</text>
<text x="284.40" y="533.30" font-size="9.2" fill="#222222" text-anchor="middle">0.14</text>
<text x="323.20" y="551.50" font-size="9.2" fill="#222222" text-anchor="middle">-0.53</text>
<text x="360.50" y="544.70" font-size="9.2" fill="#222222" text-anchor="middle">-0.31</text>
<text x="398.00" y="523.00" font-size="9.2" fill="#222222" text-anchor="middle">0.52</text>
<text x="438.50" y="498.90" font-size="9.2" fill="#222222" text-anchor="middle">1.50</text>
<text x="478.70" y="546.60" font-size="9.2" fill="#222222" text-anchor="middle">-0.38</text>
<text x="515.60" y="550.70" font-size="9.2" fill="#222222" text-anchor="middle">-0.50</text>
<text x="555.60" y="520.30" font-size="9.2" fill="#222222" text-anchor="middle">0.62</text>
<text x="593.20" y="528.50" font-size="9.2" fill="#222222" text-anchor="middle">0.31</text>
<text x="630.70" y="550.30" font-size="9.2" fill="#222222" text-anchor="middle">-0.47</text>
<text x="670.70" y="527.30" font-size="9.2" fill="#222222" text-anchor="middle">0.38</text>
<text transform="translate(57.40,598.30) rotate(-90)" font-size="9.2" fill="#1a1a1a" textLength="54.00" lengthAdjust="spacingAndGlyphs"><tspan>CO</tspan><tspan dy="1.20" font-size="6.72">2</tspan><tspan dy="-1.20">(g)+H</tspan><tspan dy="1.20" font-size="6.72">2</tspan><tspan dy="-1.20">(g)</tspan></text>
<text transform="translate(93.50,576.10) rotate(-90)" font-size="9.2" fill="#1a1a1a" textLength="19.40" lengthAdjust="spacingAndGlyphs"><tspan>CO</tspan><tspan dy="1.20" font-size="6.72">2</tspan><tspan dy="-1.20">*</tspan></text>
<text transform="translate(133.30,589.50) rotate(-90)" font-size="9.2" fill="#1a1a1a" textLength="34.30" lengthAdjust="spacingAndGlyphs"><tspan>CO</tspan><tspan dy="1.20" font-size="6.72">2</tspan><tspan dy="-1.20">*+H*</tspan></text>
<text transform="translate(210.30,578.60) rotate(-90)" font-size="9.2" fill="#1a1a1a" textLength="29.80" lengthAdjust="spacingAndGlyphs"><tspan>HCOO*</tspan></text>
<text transform="translate(250.50,580.10) rotate(-90)" font-size="9.2" fill="#1a1a1a" textLength="16.30" lengthAdjust="spacingAndGlyphs"><tspan>CO*</tspan></text>
<text transform="translate(289.90,564.00) rotate(-90)" font-size="9.2" fill="#1a1a1a" textLength="22.10" lengthAdjust="spacingAndGlyphs"><tspan>CHO*</tspan></text>
<text transform="translate(328.70,575.00) rotate(-90)" font-size="9.2" fill="#1a1a1a" textLength="16.00" lengthAdjust="spacingAndGlyphs"><tspan>CH*</tspan></text>
<text transform="translate(365.50,576.80) rotate(-90)" font-size="9.2" fill="#1a1a1a" textLength="19.30" lengthAdjust="spacingAndGlyphs"><tspan>CH</tspan><tspan dy="1.20" font-size="6.72">2</tspan><tspan dy="-1.20">*</tspan></text>
<text transform="translate(401.70,578.70) rotate(-90)" font-size="9.2" fill="#1a1a1a" textLength="46.00" lengthAdjust="spacingAndGlyphs"><tspan>CH</tspan><tspan dy="1.20" font-size="6.72">2</tspan><tspan dy="-1.20">*+CHO*</tspan></text>
<text transform="translate(483.70,596.50) rotate(-90)" font-size="9.2" fill="#1a1a1a" textLength="38.70" lengthAdjust="spacingAndGlyphs"><tspan>CH</tspan><tspan dy="1.20" font-size="6.72">2</tspan><tspan dy="-1.20">CHO*</tspan></text>
<text transform="translate(521.90,621.30) rotate(-90)" font-size="9.2" fill="#1a1a1a" textLength="54.00" lengthAdjust="spacingAndGlyphs"><tspan>CH</tspan><tspan dy="1.20" font-size="6.72">2</tspan><tspan dy="-1.20">CHO*+H*</tspan></text>
<text transform="translate(599.60,579.30) rotate(-90)" font-size="9.2" fill="#1a1a1a" textLength="38.60" lengthAdjust="spacingAndGlyphs"><tspan>CH</tspan><tspan dy="1.20" font-size="6.72">3</tspan><tspan dy="-1.20">CHO*</tspan></text>
<text transform="translate(636.40,599.70) rotate(-90)" font-size="9.2" fill="#1a1a1a" textLength="41.50" lengthAdjust="spacingAndGlyphs"><tspan>CH</tspan><tspan dy="1.20" font-size="6.72">3</tspan><tspan dy="-1.20">CH</tspan><tspan dy="1.20" font-size="6.72">2</tspan><tspan dy="-1.20">O*</tspan></text>
<text transform="translate(676.20,585.10) rotate(-90)" font-size="9.2" fill="#1a1a1a" textLength="48.80" lengthAdjust="spacingAndGlyphs"><tspan>CH</tspan><tspan dy="1.20" font-size="6.72">3</tspan><tspan dy="-1.20">CH</tspan><tspan dy="1.20" font-size="6.72">2</tspan><tspan dy="-1.20">OH*</tspan></text>
<rect x="139.5" y="711.2" width="56.3" height="84.4" fill="#e6e6e6"/>
<text x="167.5" y="702.9" font-size="12.1" fill="#6e6e6e" text-anchor="middle">TS1</text>
<rect x="412.9" y="702.4" width="52.9" height="91.1" fill="#e6e6e6"/>
<text x="439.7" y="693.7" font-size="12.1" fill="#6e6e6e" text-anchor="middle">TS2</text>
<rect x="526.3" y="754.2" width="57.4" height="41.1" fill="#e6e6e6"/>
<text x="556.4" y="744.5" font-size="12.1" fill="#6e6e6e" text-anchor="middle">TS3</text>
<rect x="41.30" y="672.80" width="639.00" height="204.30" fill="none" stroke="#202020" stroke-width="1.35"/>
<line x1="39.10" y1="877.01" x2="41.30" y2="877.01" stroke="#202020" stroke-width="1.2"/>
<line x1="37.70" y1="863.38" x2="41.30" y2="863.38" stroke="#202020" stroke-width="1.2"/>
<text x="35.6" y="868.58" font-size="14.6" fill="#222" text-anchor="end">-3</text>
<line x1="39.10" y1="849.75" x2="41.30" y2="849.75" stroke="#202020" stroke-width="1.2"/>
<line x1="37.70" y1="836.12" x2="41.30" y2="836.12" stroke="#202020" stroke-width="1.2"/>
<text x="35.6" y="841.32" font-size="14.6" fill="#222" text-anchor="end">-2</text>
<line x1="39.10" y1="822.49" x2="41.30" y2="822.49" stroke="#202020" stroke-width="1.2"/>
<line x1="37.70" y1="808.86" x2="41.30" y2="808.86" stroke="#202020" stroke-width="1.2"/>
<text x="35.6" y="814.06" font-size="14.6" fill="#222" text-anchor="end">-1</text>
<line x1="39.10" y1="795.23" x2="41.30" y2="795.23" stroke="#202020" stroke-width="1.2"/>
<line x1="37.70" y1="781.60" x2="41.30" y2="781.60" stroke="#202020" stroke-width="1.2"/>
<text x="35.6" y="786.80" font-size="14.6" fill="#222" text-anchor="end">0</text>
<line x1="39.10" y1="767.97" x2="41.30" y2="767.97" stroke="#202020" stroke-width="1.2"/>
<line x1="37.70" y1="754.34" x2="41.30" y2="754.34" stroke="#202020" stroke-width="1.2"/>
<text x="35.6" y="761.24" font-size="14.6" fill="#222" text-anchor="end">1</text>
<line x1="39.10" y1="740.71" x2="41.30" y2="740.71" stroke="#202020" stroke-width="1.2"/>
<line x1="37.70" y1="727.08" x2="41.30" y2="727.08" stroke="#202020" stroke-width="1.2"/>
<text x="35.6" y="731.98" font-size="14.6" fill="#222" text-anchor="end">2</text>
<line x1="39.10" y1="713.45" x2="41.30" y2="713.45" stroke="#202020" stroke-width="1.2"/>
<line x1="37.70" y1="699.82" x2="41.30" y2="699.82" stroke="#202020" stroke-width="1.2"/>
<text x="35.6" y="705.22" font-size="14.6" fill="#222" text-anchor="end">3</text>
<line x1="39.10" y1="686.19" x2="41.30" y2="686.19" stroke="#202020" stroke-width="1.2"/>
<line x1="37.70" y1="672.56" x2="41.30" y2="672.56" stroke="#202020" stroke-width="1.2"/>
<text x="35.6" y="679.26" font-size="14.6" fill="#222" text-anchor="end">4</text>
<text x="5.7" y="688.0" font-size="27.5" fill="#111">f</text>
<text transform="translate(13.0,774.0) rotate(-90)" font-size="17.7" fill="#222" text-anchor="middle">Free energy (eV)</text>
<text x="361.3" y="902.2" font-size="17.7" fill="#222" text-anchor="middle">Reaction coordinate</text>
<line x1="49.9" y1="686.1" x2="72.2" y2="686.1" stroke="#0a84f5" stroke-width="2.4"/>
<text x="79.4" y="689.2" font-size="8.8" fill="#333" textLength="62.0" lengthAdjust="spacingAndGlyphs">NiO/Fe<tspan font-size="6.2" dy="1.8">5</tspan><tspan dy="-1.8">C</tspan><tspan font-size="6.2" dy="1.8">2</tspan><tspan dy="-1.8">(021)</tspan></text>
<line x1="41.30" y1="781.60" x2="61.30" y2="781.60" stroke="#0a84f5" stroke-width="2.4"/>
<line x1="80.03" y1="773.69" x2="100.03" y2="773.69" stroke="#0a84f5" stroke-width="2.4"/>
<line x1="118.76" y1="760.61" x2="138.76" y2="760.61" stroke="#0a84f5" stroke-width="2.4"/>
<line x1="196.22" y1="791.96" x2="216.22" y2="791.96" stroke="#0a84f5" stroke-width="2.4"/>
<line x1="234.95" y1="784.60" x2="254.95" y2="784.60" stroke="#0a84f5" stroke-width="2.4"/>
<line x1="273.68" y1="747.80" x2="293.68" y2="747.80" stroke="#0a84f5" stroke-width="2.4"/>
<line x1="312.41" y1="782.42" x2="332.41" y2="782.42" stroke="#0a84f5" stroke-width="2.4"/>
<line x1="351.14" y1="784.60" x2="371.14" y2="784.60" stroke="#0a84f5" stroke-width="2.4"/>
<line x1="389.87" y1="736.89" x2="409.87" y2="736.89" stroke="#0a84f5" stroke-width="2.4"/>
<line x1="467.33" y1="774.24" x2="487.33" y2="774.24" stroke="#0a84f5" stroke-width="2.4"/>
<line x1="506.06" y1="777.51" x2="526.06" y2="777.51" stroke="#0a84f5" stroke-width="2.4"/>
<line x1="583.52" y1="776.69" x2="603.52" y2="776.69" stroke="#0a84f5" stroke-width="2.4"/>
<line x1="622.25" y1="770.70" x2="642.25" y2="770.70" stroke="#0a84f5" stroke-width="2.4"/>
<line x1="660.98" y1="767.42" x2="680.30" y2="767.42" stroke="#0a84f5" stroke-width="2.4"/>
<line x1="61.30" y1="781.60" x2="80.03" y2="773.69" stroke="#0a84f5" stroke-width="1.3" stroke-dasharray="4.5 4.2"/>
<line x1="100.03" y1="773.69" x2="118.76" y2="760.61" stroke="#0a84f5" stroke-width="1.3" stroke-dasharray="4.5 4.2"/>
<path d="M138.76,760.61 L139.44,759.39 L140.13,758.17 L140.81,756.95 L141.49,755.73 L142.18,754.53 L142.86,753.33 L143.54,752.14 L144.23,750.96 L144.91,749.79 L145.59,748.64 L146.28,747.50 L146.96,746.38 L147.65,745.27 L148.33,744.19 L149.01,743.13 L149.70,742.09 L150.38,741.07 L151.06,740.08 L151.75,739.12 L152.43,738.19 L153.11,737.29 L153.80,736.42 L154.48,735.58 L155.16,734.78 L155.85,734.02 L156.53,733.29 L157.21,732.61 L157.90,731.96 L158.58,731.36 L159.26,730.80 L159.95,730.29 L160.63,729.83 L161.32,729.41 L162.00,729.05 L162.68,728.73 L163.37,728.47 L164.05,728.27 L164.73,728.12 L165.42,728.03 L166.10,728.00 L166.10,728.00 L166.85,728.06 L167.61,728.24 L168.36,728.53 L169.11,728.93 L169.86,729.44 L170.62,730.05 L171.37,730.77 L172.12,731.58 L172.88,732.49 L173.63,733.50 L174.38,734.59 L175.14,735.77 L175.89,737.04 L176.64,738.38 L177.39,739.80 L178.15,741.30 L178.90,742.87 L179.65,744.51 L180.41,746.22 L181.16,747.99 L181.91,749.82 L182.67,751.70 L183.42,753.64 L184.17,755.63 L184.92,757.67 L185.68,759.75 L186.43,761.88 L187.18,764.04 L187.94,766.24 L188.69,768.47 L189.44,770.74 L190.20,773.03 L190.95,775.34 L191.70,777.68 L192.45,780.03 L193.21,782.40 L193.96,784.78 L194.71,787.17 L195.47,789.56 L196.22,791.96" fill="none" stroke="#0a84f5" stroke-width="2.4" stroke-linejoin="round"/>
<line x1="216.22" y1="791.96" x2="234.95" y2="784.60" stroke="#0a84f5" stroke-width="1.3" stroke-dasharray="4.5 4.2"/>
<line x1="254.95" y1="784.60" x2="273.68" y2="747.80" stroke="#0a84f5" stroke-width="1.3" stroke-dasharray="4.5 4.2"/>
<line x1="293.68" y1="747.80" x2="312.41" y2="782.42" stroke="#0a84f5" stroke-width="1.3" stroke-dasharray="4.5 4.2"/>
<line x1="332.41" y1="782.42" x2="351.14" y2="784.60" stroke="#0a84f5" stroke-width="1.3" stroke-dasharray="4.5 4.2"/>
<line x1="371.14" y1="784.60" x2="389.87" y2="736.89" stroke="#0a84f5" stroke-width="1.3" stroke-dasharray="4.5 4.2"/>
<path d="M409.87,736.89 L410.59,736.19 L411.31,735.49 L412.03,734.79 L412.75,734.10 L413.47,733.41 L414.19,732.72 L414.92,732.04 L415.64,731.36 L416.36,730.69 L417.08,730.03 L417.80,729.38 L418.52,728.73 L419.24,728.10 L419.96,727.48 L420.68,726.87 L421.40,726.28 L422.12,725.69 L422.84,725.13 L423.56,724.58 L424.28,724.04 L425.01,723.52 L425.73,723.03 L426.45,722.55 L427.17,722.09 L427.89,721.65 L428.61,721.23 L429.33,720.84 L430.05,720.47 L430.77,720.13 L431.49,719.81 L432.21,719.51 L432.93,719.25 L433.65,719.01 L434.38,718.80 L435.10,718.62 L435.82,718.47 L436.54,718.35 L437.26,718.27 L437.98,718.22 L438.70,718.20 L438.70,718.20 L439.42,718.25 L440.13,718.41 L440.85,718.66 L441.56,719.01 L442.28,719.46 L442.99,720.00 L443.71,720.62 L444.43,721.34 L445.14,722.14 L445.86,723.02 L446.57,723.97 L447.29,725.01 L448.00,726.12 L448.72,727.30 L449.44,728.54 L450.15,729.86 L450.87,731.23 L451.58,732.67 L452.30,734.16 L453.01,735.71 L453.73,737.31 L454.45,738.97 L455.16,740.67 L455.88,742.41 L456.59,744.20 L457.31,746.02 L458.03,747.88 L458.74,749.78 L459.46,751.71 L460.17,753.66 L460.89,755.65 L461.60,757.65 L462.32,759.68 L463.04,761.73 L463.75,763.79 L464.47,765.86 L465.18,767.95 L465.90,770.04 L466.61,772.14 L467.33,774.24" fill="none" stroke="#0a84f5" stroke-width="2.4" stroke-linejoin="round"/>
<line x1="487.33" y1="774.24" x2="506.06" y2="777.51" stroke="#0a84f5" stroke-width="1.3" stroke-dasharray="4.5 4.2"/>
<path d="M526.06,777.51 L526.81,777.30 L527.56,777.08 L528.31,776.87 L529.06,776.66 L529.81,776.44 L530.57,776.23 L531.32,776.02 L532.07,775.82 L532.82,775.61 L533.57,775.41 L534.32,775.21 L535.07,775.01 L535.82,774.82 L536.57,774.63 L537.32,774.44 L538.08,774.26 L538.83,774.08 L539.58,773.91 L540.33,773.74 L541.08,773.58 L541.83,773.42 L542.58,773.26 L543.33,773.12 L544.08,772.98 L544.84,772.84 L545.59,772.72 L546.34,772.60 L547.09,772.48 L547.84,772.38 L548.59,772.28 L549.34,772.19 L550.09,772.11 L550.84,772.03 L551.59,771.97 L552.35,771.91 L553.10,771.87 L553.85,771.83 L554.60,771.81 L555.35,771.79 L556.10,771.79 L556.10,771.79 L556.79,771.79 L557.47,771.80 L558.16,771.83 L558.84,771.86 L559.53,771.90 L560.21,771.94 L560.90,772.00 L561.58,772.06 L562.27,772.13 L562.95,772.21 L563.64,772.29 L564.33,772.38 L565.01,772.48 L565.70,772.58 L566.38,772.69 L567.07,772.81 L567.75,772.93 L568.44,773.05 L569.12,773.18 L569.81,773.32 L570.50,773.46 L571.18,773.60 L571.87,773.75 L572.55,773.91 L573.24,774.06 L573.92,774.22 L574.61,774.39 L575.29,774.55 L575.98,774.72 L576.66,774.89 L577.35,775.07 L578.04,775.24 L578.72,775.42 L579.41,775.60 L580.09,775.78 L580.78,775.96 L581.46,776.14 L582.15,776.33 L582.83,776.51 L583.52,776.69" fill="none" stroke="#0a84f5" stroke-width="2.4" stroke-linejoin="round"/>
<line x1="603.52" y1="776.69" x2="622.25" y2="770.70" stroke="#0a84f5" stroke-width="1.3" stroke-dasharray="4.5 4.2"/>
<line x1="642.25" y1="770.70" x2="660.98" y2="767.42" stroke="#0a84f5" stroke-width="1.3" stroke-dasharray="4.5 4.2"/>
<text x="51.10" y="779.10" font-size="9.2" fill="#222222" text-anchor="middle">0.00</text>
<text x="94.50" y="770.20" font-size="9.2" fill="#222222" text-anchor="middle">0.29</text>
<text x="129.00" y="755.50" font-size="9.2" fill="#222222" text-anchor="middle">0.77</text>
<text x="168.60" y="723.60" font-size="9.2" fill="#222222" text-anchor="middle">2.01</text>
<text x="206.70" y="789.20" font-size="9.2" fill="#222222" text-anchor="middle">-0.38</text>
<text x="247.50" y="781.20" font-size="9.2" fill="#222222" text-anchor="middle">-0.11</text>
<text x="284.70" y="743.60" font-size="9.2" fill="#222222" text-anchor="middle">1.24</text>
<text x="324.80" y="777.90" font-size="9.2" fill="#222222" text-anchor="middle">-0.03</text>
<text x="360.50" y="781.00" font-size="9.2" fill="#222222" text-anchor="middle">-0.11</text>
<text x="400.00" y="732.30" font-size="9.2" fill="#222222" text-anchor="middle">1.64</text>
<text x="437.00" y="715.00" font-size="9.2" fill="#222222" text-anchor="middle">2.36</text>
<text x="479.60" y="770.80" font-size="9.2" fill="#222222" text-anchor="middle">0.27</text>
<text x="514.70" y="773.60" font-size="9.2" fill="#222222" text-anchor="middle">0.15</text>
<text x="555.60" y="766.10" font-size="9.2" fill="#222222" text-anchor="middle">0.36</text>
<text x="595.80" y="774.40" font-size="9.2" fill="#222222" text-anchor="middle">0.18</text>
<text x="632.20" y="765.70" font-size="9.2" fill="#222222" text-anchor="middle">0.40</text>
<text x="669.60" y="762.30" font-size="9.2" fill="#222222" text-anchor="middle">0.52</text>
<text transform="translate(56.40,839.20) rotate(-90)" font-size="9.2" fill="#1a1a1a" textLength="52.50" lengthAdjust="spacingAndGlyphs"><tspan>CO</tspan><tspan dy="1.20" font-size="6.72">2</tspan><tspan dy="-1.20">(g)+H</tspan><tspan dy="1.20" font-size="6.72">2</tspan><tspan dy="-1.20">(g)</tspan></text>
<text transform="translate(92.40,796.90) rotate(-90)" font-size="9.2" fill="#1a1a1a" textLength="19.70" lengthAdjust="spacingAndGlyphs"><tspan>CO</tspan><tspan dy="1.20" font-size="6.72">2</tspan><tspan dy="-1.20">*</tspan></text>
<text transform="translate(132.60,801.00) rotate(-90)" font-size="9.2" fill="#1a1a1a" textLength="34.70" lengthAdjust="spacingAndGlyphs"><tspan>CO</tspan><tspan dy="1.20" font-size="6.72">2</tspan><tspan dy="-1.20">*+H*</tspan></text>
<text transform="translate(209.60,826.40) rotate(-90)" font-size="9.2" fill="#1a1a1a" textLength="28.90" lengthAdjust="spacingAndGlyphs"><tspan>HCOO*</tspan></text>
<text transform="translate(249.70,808.20) rotate(-90)" font-size="9.2" fill="#1a1a1a" textLength="16.80" lengthAdjust="spacingAndGlyphs"><tspan>CO*</tspan></text>
<text transform="translate(288.70,776.40) rotate(-90)" font-size="9.2" fill="#1a1a1a" textLength="22.70" lengthAdjust="spacingAndGlyphs"><tspan>CHO*</tspan></text>
<text transform="translate(327.80,804.10) rotate(-90)" font-size="9.2" fill="#1a1a1a" textLength="16.00" lengthAdjust="spacingAndGlyphs"><tspan>CH*</tspan></text>
<text transform="translate(364.70,807.80) rotate(-90)" font-size="9.2" fill="#1a1a1a" textLength="19.70" lengthAdjust="spacingAndGlyphs"><tspan>CH</tspan><tspan dy="1.20" font-size="6.72">2</tspan><tspan dy="-1.20">*</tspan></text>
<text transform="translate(403.10,789.50) rotate(-90)" font-size="9.2" fill="#1a1a1a" textLength="47.00" lengthAdjust="spacingAndGlyphs"><tspan>CH</tspan><tspan dy="1.20" font-size="6.72">2</tspan><tspan dy="-1.20">*+CHO*</tspan></text>
<text transform="translate(482.80,816.80) rotate(-90)" font-size="9.2" fill="#1a1a1a" textLength="38.70" lengthAdjust="spacingAndGlyphs"><tspan>CH</tspan><tspan dy="1.20" font-size="6.72">2</tspan><tspan dy="-1.20">CHO*</tspan></text>
<text transform="translate(519.30,834.00) rotate(-90)" font-size="9.2" fill="#1a1a1a" textLength="52.90" lengthAdjust="spacingAndGlyphs"><tspan>CH</tspan><tspan dy="1.20" font-size="6.72">2</tspan><tspan dy="-1.20">CHO*+H*</tspan></text>
<text transform="translate(598.40,820.10) rotate(-90)" font-size="9.2" fill="#1a1a1a" textLength="38.60" lengthAdjust="spacingAndGlyphs"><tspan>CH</tspan><tspan dy="1.20" font-size="6.72">3</tspan><tspan dy="-1.20">CHO*</tspan></text>
<text transform="translate(635.40,817.20) rotate(-90)" font-size="9.2" fill="#1a1a1a" textLength="42.00" lengthAdjust="spacingAndGlyphs"><tspan>CH</tspan><tspan dy="1.20" font-size="6.72">3</tspan><tspan dy="-1.20">CH</tspan><tspan dy="1.20" font-size="6.72">2</tspan><tspan dy="-1.20">O*</tspan></text>
<text transform="translate(675.20,821.20) rotate(-90)" font-size="9.2" fill="#1a1a1a" textLength="47.40" lengthAdjust="spacingAndGlyphs"><tspan>CH</tspan><tspan dy="1.20" font-size="6.72">3</tspan><tspan dy="-1.20">CH</tspan><tspan dy="1.20" font-size="6.72">2</tspan><tspan dy="-1.20">OH*</tspan></text>
</svg></body></html>
